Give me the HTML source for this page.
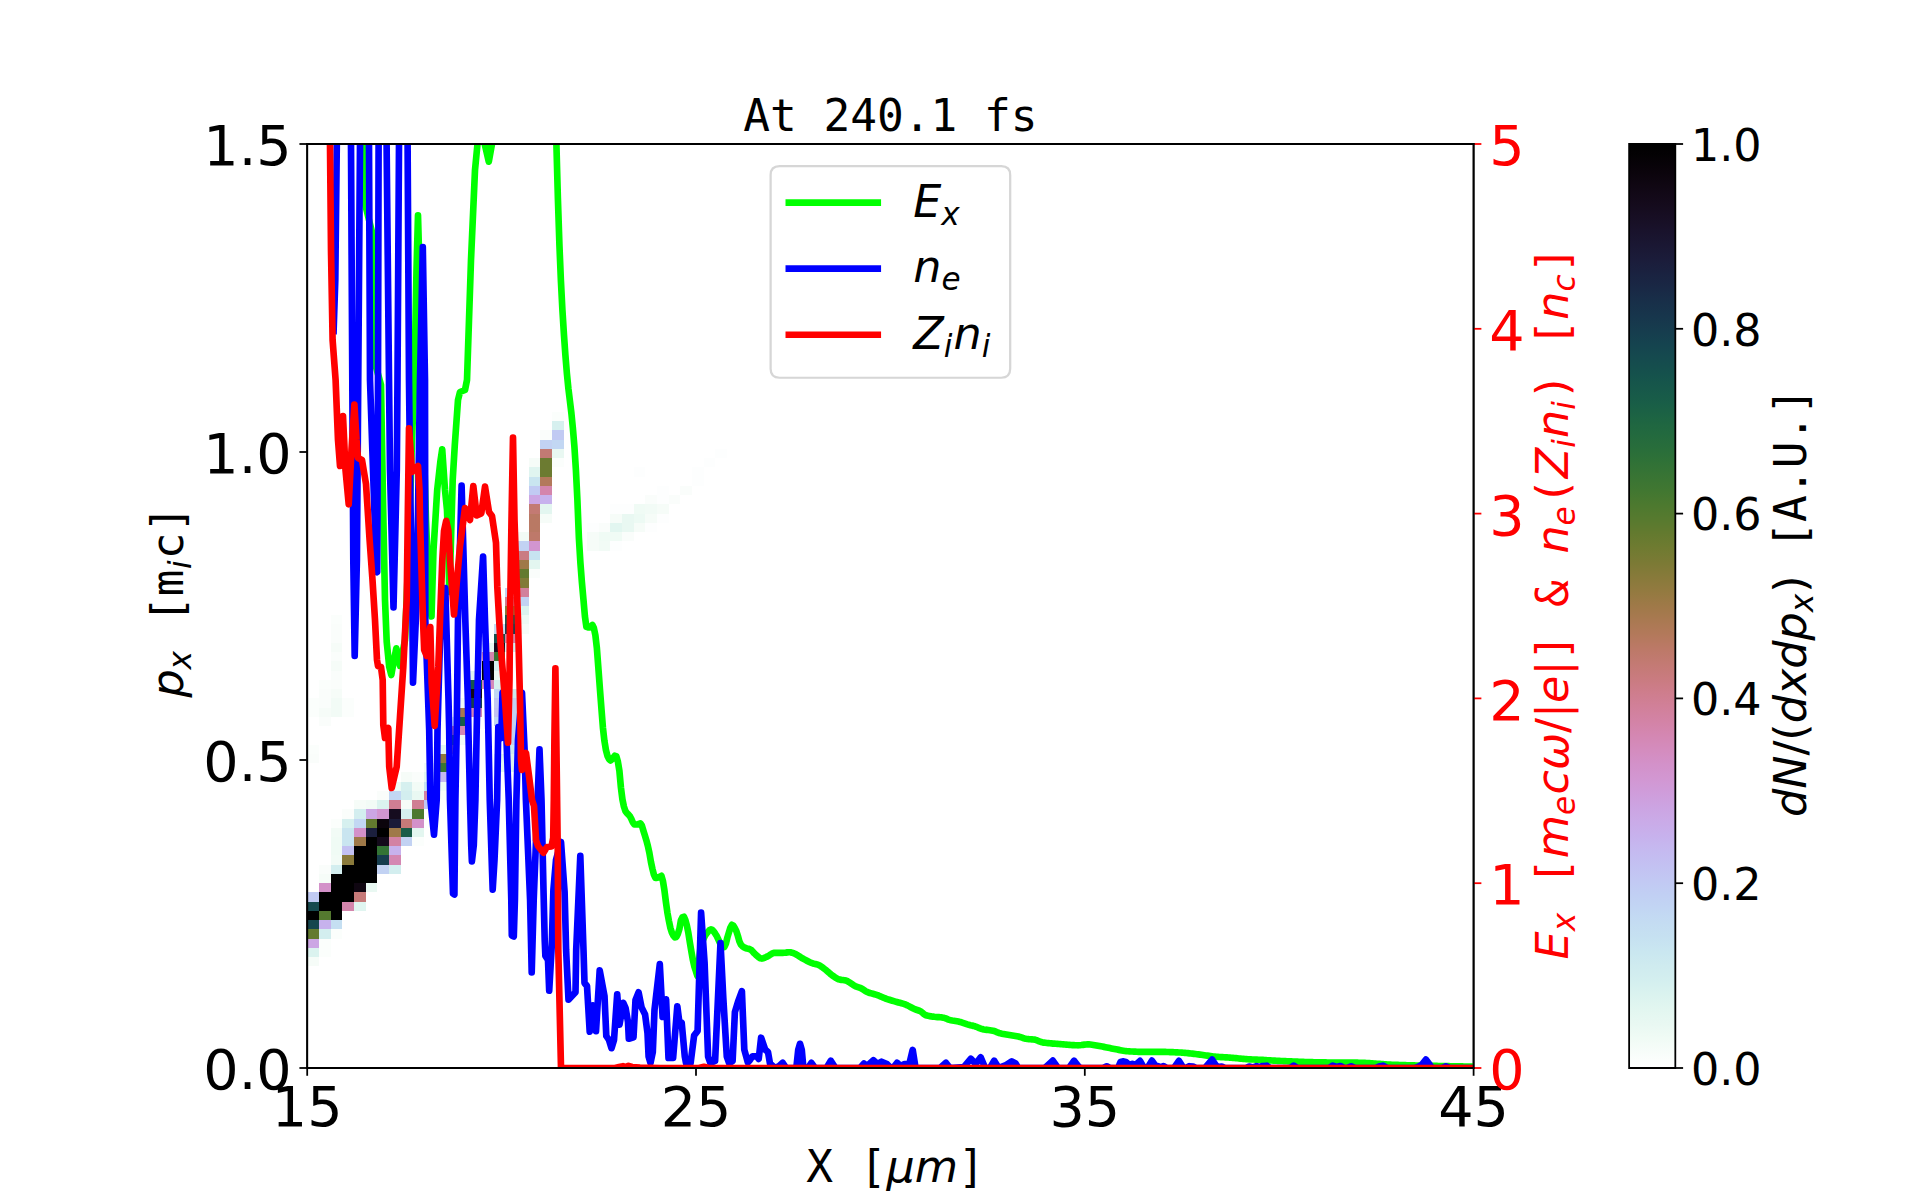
<!DOCTYPE html>
<html lang="en"><head><meta charset="utf-8"><title>At 240.1 fs</title>
<style>html,body{margin:0;padding:0;background:#fff}svg{display:block}</style></head>
<body>
<svg width="1920" height="1200" viewBox="0 0 864 540">
 
 <defs>
  <style type="text/css">*{stroke-linejoin: round; stroke-linecap: butt}</style>
 </defs>
 <g id="figure_1">
  <g id="patch_1">
   <path d="M 0 540 
L 864 540 
L 864 0 
L 0 0 
z
" style="fill: #ffffff"/>
  </g>
  <g id="axes_1">
   <g id="patch_2">
    <path d="M 138.24 480.6 
L 663.12 480.6 
L 663.12 64.8 
L 138.24 64.8 
z
" style="fill: #ffffff"/>
   </g>
   <g id="heatcells" shape-rendering="crispEdges">
    <path d="M 138.24 434.862 
L 143.488 434.862 
L 143.488 430.704 
L 138.24 430.704 
z
" clip-path="url(#p8d87a5adac)" style="fill: #f6fcf8"/>
    <path d="M 138.24 430.704 
L 143.488 430.704 
L 143.488 426.546 
L 138.24 426.546 
z
" clip-path="url(#p8d87a5adac)" style="fill: #dbf3ef"/>
    <path d="M 138.24 426.546 
L 143.488 426.546 
L 143.488 422.388 
L 138.24 422.388 
z
" clip-path="url(#p8d87a5adac)" style="fill: #cca6e4"/>
    <path d="M 138.24 422.388 
L 143.488 422.388 
L 143.488 418.23 
L 138.24 418.23 
z
" clip-path="url(#p8d87a5adac)" style="fill: #637a2f"/>
    <path d="M 138.24 418.23 
L 143.488 418.23 
L 143.488 414.072 
L 138.24 414.072 
z
" clip-path="url(#p8d87a5adac)" style="fill: #15464e"/>
    <path d="M 138.24 414.072 
L 143.488 414.072 
L 143.488 409.914 
L 138.24 409.914 
z
" clip-path="url(#p8d87a5adac)"/>
    <path d="M 138.24 409.914 
L 143.488 409.914 
L 143.488 405.756 
L 138.24 405.756 
z
" clip-path="url(#p8d87a5adac)" style="fill: #15494e"/>
    <path d="M 138.24 405.756 
L 143.488 405.756 
L 143.488 401.598 
L 138.24 401.598 
z
" clip-path="url(#p8d87a5adac)" style="fill: #c1caf3"/>
    <path d="M 138.24 343.386 
L 143.488 343.386 
L 143.488 339.228 
L 138.24 339.228 
z
" clip-path="url(#p8d87a5adac)" style="fill: #fafdfb"/>
    <path d="M 138.24 339.228 
L 143.488 339.228 
L 143.488 335.07 
L 138.24 335.07 
z
" clip-path="url(#p8d87a5adac)" style="fill: #fbfefc"/>
    <path d="M 138.24 322.596 
L 143.488 322.596 
L 143.488 318.438 
L 138.24 318.438 
z
" clip-path="url(#p8d87a5adac)" style="fill: #fbfefc"/>
    <path d="M 138.24 318.438 
L 143.488 318.438 
L 143.488 314.28 
L 138.24 314.28 
z
" clip-path="url(#p8d87a5adac)" style="fill: #fbfefc"/>
    <path d="M 143.488 430.704 
L 148.737 430.704 
L 148.737 426.546 
L 143.488 426.546 
z
" clip-path="url(#p8d87a5adac)" style="fill: #fbfefc"/>
    <path d="M 143.488 426.546 
L 148.737 426.546 
L 148.737 422.388 
L 143.488 422.388 
z
" clip-path="url(#p8d87a5adac)" style="fill: #fbfefc"/>
    <path d="M 143.488 422.388 
L 148.737 422.388 
L 148.737 418.23 
L 143.488 418.23 
z
" clip-path="url(#p8d87a5adac)" style="fill: #d3eeef"/>
    <path d="M 143.488 418.23 
L 148.737 418.23 
L 148.737 414.072 
L 143.488 414.072 
z
" clip-path="url(#p8d87a5adac)" style="fill: #c7b2ed"/>
    <path d="M 143.488 414.072 
L 148.737 414.072 
L 148.737 409.914 
L 143.488 409.914 
z
" clip-path="url(#p8d87a5adac)" style="fill: #54792f"/>
    <path d="M 143.488 409.914 
L 148.737 409.914 
L 148.737 405.756 
L 143.488 405.756 
z
" clip-path="url(#p8d87a5adac)"/>
    <path d="M 143.488 405.756 
L 148.737 405.756 
L 148.737 401.598 
L 143.488 401.598 
z
" clip-path="url(#p8d87a5adac)"/>
    <path d="M 143.488 401.598 
L 148.737 401.598 
L 148.737 397.44 
L 143.488 397.44 
z
" clip-path="url(#p8d87a5adac)" style="fill: #d391c9"/>
    <path d="M 143.488 397.44 
L 148.737 397.44 
L 148.737 393.282 
L 143.488 393.282 
z
" clip-path="url(#p8d87a5adac)" style="fill: #f6fcf8"/>
    <path d="M 143.488 393.282 
L 148.737 393.282 
L 148.737 389.124 
L 143.488 389.124 
z
" clip-path="url(#p8d87a5adac)" style="fill: #fafdfb"/>
    <path d="M 143.488 326.754 
L 148.737 326.754 
L 148.737 322.596 
L 143.488 322.596 
z
" clip-path="url(#p8d87a5adac)" style="fill: #fafdfb"/>
    <path d="M 143.488 322.596 
L 148.737 322.596 
L 148.737 318.438 
L 143.488 318.438 
z
" clip-path="url(#p8d87a5adac)" style="fill: #f6fcf8"/>
    <path d="M 143.488 318.438 
L 148.737 318.438 
L 148.737 314.28 
L 143.488 314.28 
z
" clip-path="url(#p8d87a5adac)" style="fill: #fafdfb"/>
    <path d="M 143.488 314.28 
L 148.737 314.28 
L 148.737 310.122 
L 143.488 310.122 
z
" clip-path="url(#p8d87a5adac)" style="fill: #fafdfb"/>
    <path d="M 143.488 310.122 
L 148.737 310.122 
L 148.737 305.964 
L 143.488 305.964 
z
" clip-path="url(#p8d87a5adac)" style="fill: #fbfefc"/>
    <path d="M 148.737 422.388 
L 153.986 422.388 
L 153.986 418.23 
L 148.737 418.23 
z
" clip-path="url(#p8d87a5adac)" style="fill: #fbfefc"/>
    <path d="M 148.737 418.23 
L 153.986 418.23 
L 153.986 414.072 
L 148.737 414.072 
z
" clip-path="url(#p8d87a5adac)" style="fill: #c5dff2"/>
    <path d="M 148.737 414.072 
L 153.986 414.072 
L 153.986 409.914 
L 148.737 409.914 
z
" clip-path="url(#p8d87a5adac)"/>
    <path d="M 148.737 409.914 
L 153.986 409.914 
L 153.986 405.756 
L 148.737 405.756 
z
" clip-path="url(#p8d87a5adac)"/>
    <path d="M 148.737 405.756 
L 153.986 405.756 
L 153.986 401.598 
L 148.737 401.598 
z
" clip-path="url(#p8d87a5adac)"/>
    <path d="M 148.737 401.598 
L 153.986 401.598 
L 153.986 397.44 
L 148.737 397.44 
z
" clip-path="url(#p8d87a5adac)"/>
    <path d="M 148.737 397.44 
L 153.986 397.44 
L 153.986 393.282 
L 148.737 393.282 
z
" clip-path="url(#p8d87a5adac)"/>
    <path d="M 148.737 393.282 
L 153.986 393.282 
L 153.986 389.124 
L 148.737 389.124 
z
" clip-path="url(#p8d87a5adac)" style="fill: #d3eeef"/>
    <path d="M 148.737 389.124 
L 153.986 389.124 
L 153.986 384.966 
L 148.737 384.966 
z
" clip-path="url(#p8d87a5adac)" style="fill: #f2fbf6"/>
    <path d="M 148.737 384.966 
L 153.986 384.966 
L 153.986 380.808 
L 148.737 380.808 
z
" clip-path="url(#p8d87a5adac)" style="fill: #f0fbf5"/>
    <path d="M 148.737 380.808 
L 153.986 380.808 
L 153.986 376.65 
L 148.737 376.65 
z
" clip-path="url(#p8d87a5adac)" style="fill: #f0fbf5"/>
    <path d="M 148.737 376.65 
L 153.986 376.65 
L 153.986 372.492 
L 148.737 372.492 
z
" clip-path="url(#p8d87a5adac)" style="fill: #f2fbf6"/>
    <path d="M 148.737 372.492 
L 153.986 372.492 
L 153.986 368.334 
L 148.737 368.334 
z
" clip-path="url(#p8d87a5adac)" style="fill: #fbfefc"/>
    <path d="M 148.737 322.596 
L 153.986 322.596 
L 153.986 318.438 
L 148.737 318.438 
z
" clip-path="url(#p8d87a5adac)" style="fill: #f2fbf6"/>
    <path d="M 148.737 318.438 
L 153.986 318.438 
L 153.986 314.28 
L 148.737 314.28 
z
" clip-path="url(#p8d87a5adac)" style="fill: #f2fbf6"/>
    <path d="M 148.737 314.28 
L 153.986 314.28 
L 153.986 310.122 
L 148.737 310.122 
z
" clip-path="url(#p8d87a5adac)" style="fill: #f6fcf8"/>
    <path d="M 148.737 310.122 
L 153.986 310.122 
L 153.986 305.964 
L 148.737 305.964 
z
" clip-path="url(#p8d87a5adac)" style="fill: #fafdfb"/>
    <path d="M 148.737 305.964 
L 153.986 305.964 
L 153.986 301.806 
L 148.737 301.806 
z
" clip-path="url(#p8d87a5adac)" style="fill: #fafdfb"/>
    <path d="M 148.737 301.806 
L 153.986 301.806 
L 153.986 297.648 
L 148.737 297.648 
z
" clip-path="url(#p8d87a5adac)" style="fill: #f6fcf8"/>
    <path d="M 148.737 297.648 
L 153.986 297.648 
L 153.986 293.49 
L 148.737 293.49 
z
" clip-path="url(#p8d87a5adac)" style="fill: #fafdfb"/>
    <path d="M 148.737 293.49 
L 153.986 293.49 
L 153.986 289.332 
L 148.737 289.332 
z
" clip-path="url(#p8d87a5adac)" style="fill: #f6fcf8"/>
    <path d="M 148.737 289.332 
L 153.986 289.332 
L 153.986 285.174 
L 148.737 285.174 
z
" clip-path="url(#p8d87a5adac)" style="fill: #fafdfb"/>
    <path d="M 148.737 285.174 
L 153.986 285.174 
L 153.986 281.016 
L 148.737 281.016 
z
" clip-path="url(#p8d87a5adac)" style="fill: #fafdfb"/>
    <path d="M 148.737 281.016 
L 153.986 281.016 
L 153.986 276.858 
L 148.737 276.858 
z
" clip-path="url(#p8d87a5adac)" style="fill: #fbfefc"/>
    <path d="M 153.986 409.914 
L 159.235 409.914 
L 159.235 405.756 
L 153.986 405.756 
z
" clip-path="url(#p8d87a5adac)" style="fill: #d485ac"/>
    <path d="M 153.986 405.756 
L 159.235 405.756 
L 159.235 401.598 
L 153.986 401.598 
z
" clip-path="url(#p8d87a5adac)"/>
    <path d="M 153.986 401.598 
L 159.235 401.598 
L 159.235 397.44 
L 153.986 397.44 
z
" clip-path="url(#p8d87a5adac)"/>
    <path d="M 153.986 397.44 
L 159.235 397.44 
L 159.235 393.282 
L 153.986 393.282 
z
" clip-path="url(#p8d87a5adac)"/>
    <path d="M 153.986 393.282 
L 159.235 393.282 
L 159.235 389.124 
L 153.986 389.124 
z
" clip-path="url(#p8d87a5adac)"/>
    <path d="M 153.986 389.124 
L 159.235 389.124 
L 159.235 384.966 
L 153.986 384.966 
z
" clip-path="url(#p8d87a5adac)" style="fill: #8a7a3b"/>
    <path d="M 153.986 384.966 
L 159.235 384.966 
L 159.235 380.808 
L 153.986 380.808 
z
" clip-path="url(#p8d87a5adac)" style="fill: #c3c1f2"/>
    <path d="M 153.986 380.808 
L 159.235 380.808 
L 159.235 376.65 
L 153.986 376.65 
z
" clip-path="url(#p8d87a5adac)" style="fill: #c9e5f0"/>
    <path d="M 153.986 376.65 
L 159.235 376.65 
L 159.235 372.492 
L 153.986 372.492 
z
" clip-path="url(#p8d87a5adac)" style="fill: #c9e5f0"/>
    <path d="M 153.986 372.492 
L 159.235 372.492 
L 159.235 368.334 
L 153.986 368.334 
z
" clip-path="url(#p8d87a5adac)" style="fill: #d6f0ef"/>
    <path d="M 153.986 368.334 
L 159.235 368.334 
L 159.235 364.176 
L 153.986 364.176 
z
" clip-path="url(#p8d87a5adac)" style="fill: #fafdfb"/>
    <path d="M 153.986 322.596 
L 159.235 322.596 
L 159.235 318.438 
L 153.986 318.438 
z
" clip-path="url(#p8d87a5adac)" style="fill: #fbfefc"/>
    <path d="M 153.986 318.438 
L 159.235 318.438 
L 159.235 314.28 
L 153.986 314.28 
z
" clip-path="url(#p8d87a5adac)" style="fill: #fbfefc"/>
    <path d="M 159.235 409.914 
L 164.484 409.914 
L 164.484 405.756 
L 159.235 405.756 
z
" clip-path="url(#p8d87a5adac)" style="fill: #e0f5f0"/>
    <path d="M 159.235 405.756 
L 164.484 405.756 
L 164.484 401.598 
L 159.235 401.598 
z
" clip-path="url(#p8d87a5adac)" style="fill: #c67a79"/>
    <path d="M 159.235 401.598 
L 164.484 401.598 
L 164.484 397.44 
L 159.235 397.44 
z
" clip-path="url(#p8d87a5adac)" style="fill: #0f0611"/>
    <path d="M 159.235 397.44 
L 164.484 397.44 
L 164.484 393.282 
L 159.235 393.282 
z
" clip-path="url(#p8d87a5adac)"/>
    <path d="M 159.235 393.282 
L 164.484 393.282 
L 164.484 389.124 
L 159.235 389.124 
z
" clip-path="url(#p8d87a5adac)"/>
    <path d="M 159.235 389.124 
L 164.484 389.124 
L 164.484 384.966 
L 159.235 384.966 
z
" clip-path="url(#p8d87a5adac)"/>
    <path d="M 159.235 384.966 
L 164.484 384.966 
L 164.484 380.808 
L 159.235 380.808 
z
" clip-path="url(#p8d87a5adac)"/>
    <path d="M 159.235 380.808 
L 164.484 380.808 
L 164.484 376.65 
L 159.235 376.65 
z
" clip-path="url(#p8d87a5adac)" style="fill: #9f7948"/>
    <path d="M 159.235 376.65 
L 164.484 376.65 
L 164.484 372.492 
L 159.235 372.492 
z
" clip-path="url(#p8d87a5adac)" style="fill: #d391c9"/>
    <path d="M 159.235 372.492 
L 164.484 372.492 
L 164.484 368.334 
L 159.235 368.334 
z
" clip-path="url(#p8d87a5adac)" style="fill: #c2d7f3"/>
    <path d="M 159.235 368.334 
L 164.484 368.334 
L 164.484 364.176 
L 159.235 364.176 
z
" clip-path="url(#p8d87a5adac)" style="fill: #d3eeef"/>
    <path d="M 159.235 364.176 
L 164.484 364.176 
L 164.484 360.018 
L 159.235 360.018 
z
" clip-path="url(#p8d87a5adac)" style="fill: #f6fcf8"/>
    <path d="M 164.484 401.598 
L 169.732 401.598 
L 169.732 397.44 
L 164.484 397.44 
z
" clip-path="url(#p8d87a5adac)" style="fill: #e9f8f2"/>
    <path d="M 164.484 397.44 
L 169.732 397.44 
L 169.732 393.282 
L 164.484 393.282 
z
" clip-path="url(#p8d87a5adac)"/>
    <path d="M 164.484 393.282 
L 169.732 393.282 
L 169.732 389.124 
L 164.484 389.124 
z
" clip-path="url(#p8d87a5adac)"/>
    <path d="M 164.484 389.124 
L 169.732 389.124 
L 169.732 384.966 
L 164.484 384.966 
z
" clip-path="url(#p8d87a5adac)"/>
    <path d="M 164.484 384.966 
L 169.732 384.966 
L 169.732 380.808 
L 164.484 380.808 
z
" clip-path="url(#p8d87a5adac)"/>
    <path d="M 164.484 380.808 
L 169.732 380.808 
L 169.732 376.65 
L 164.484 376.65 
z
" clip-path="url(#p8d87a5adac)"/>
    <path d="M 164.484 376.65 
L 169.732 376.65 
L 169.732 372.492 
L 164.484 372.492 
z
" clip-path="url(#p8d87a5adac)" style="fill: #1b1f3d"/>
    <path d="M 164.484 372.492 
L 169.732 372.492 
L 169.732 368.334 
L 164.484 368.334 
z
" clip-path="url(#p8d87a5adac)" style="fill: #637a2f"/>
    <path d="M 164.484 368.334 
L 169.732 368.334 
L 169.732 364.176 
L 164.484 364.176 
z
" clip-path="url(#p8d87a5adac)" style="fill: #cca6e4"/>
    <path d="M 164.484 364.176 
L 169.732 364.176 
L 169.732 360.018 
L 164.484 360.018 
z
" clip-path="url(#p8d87a5adac)" style="fill: #f2fbf6"/>
    <path d="M 169.732 393.282 
L 174.981 393.282 
L 174.981 389.124 
L 169.732 389.124 
z
" clip-path="url(#p8d87a5adac)" style="fill: #c2d2f3"/>
    <path d="M 169.732 389.124 
L 174.981 389.124 
L 174.981 384.966 
L 169.732 384.966 
z
" clip-path="url(#p8d87a5adac)" style="fill: #163d4e"/>
    <path d="M 169.732 384.966 
L 174.981 384.966 
L 174.981 380.808 
L 169.732 380.808 
z
" clip-path="url(#p8d87a5adac)" style="fill: #337335"/>
    <path d="M 169.732 380.808 
L 174.981 380.808 
L 174.981 376.65 
L 169.732 376.65 
z
" clip-path="url(#p8d87a5adac)" style="fill: #140a1b"/>
    <path d="M 169.732 376.65 
L 174.981 376.65 
L 174.981 372.492 
L 169.732 372.492 
z
" clip-path="url(#p8d87a5adac)"/>
    <path d="M 169.732 372.492 
L 174.981 372.492 
L 174.981 368.334 
L 169.732 368.334 
z
" clip-path="url(#p8d87a5adac)" style="fill: #0b040c"/>
    <path d="M 169.732 368.334 
L 174.981 368.334 
L 174.981 364.176 
L 169.732 364.176 
z
" clip-path="url(#p8d87a5adac)" style="fill: #d295d0"/>
    <path d="M 169.732 364.176 
L 174.981 364.176 
L 174.981 360.018 
L 169.732 360.018 
z
" clip-path="url(#p8d87a5adac)" style="fill: #dbf3ef"/>
    <path d="M 169.732 360.018 
L 174.981 360.018 
L 174.981 355.86 
L 169.732 355.86 
z
" clip-path="url(#p8d87a5adac)" style="fill: #fafdfb"/>
    <path d="M 174.981 393.282 
L 180.230 393.282 
L 180.230 389.124 
L 174.981 389.124 
z
" clip-path="url(#p8d87a5adac)" style="fill: #d3eeef"/>
    <path d="M 174.981 389.124 
L 180.230 389.124 
L 180.230 384.966 
L 174.981 384.966 
z
" clip-path="url(#p8d87a5adac)" style="fill: #d487b2"/>
    <path d="M 174.981 384.966 
L 180.230 384.966 
L 180.230 380.808 
L 174.981 380.808 
z
" clip-path="url(#p8d87a5adac)" style="fill: #c7b2ed"/>
    <path d="M 174.981 380.808 
L 180.230 380.808 
L 180.230 376.65 
L 174.981 376.65 
z
" clip-path="url(#p8d87a5adac)" style="fill: #d382a3"/>
    <path d="M 174.981 376.65 
L 180.230 376.65 
L 180.230 372.492 
L 174.981 372.492 
z
" clip-path="url(#p8d87a5adac)" style="fill: #9f7948"/>
    <path d="M 174.981 372.492 
L 180.230 372.492 
L 180.230 368.334 
L 174.981 368.334 
z
" clip-path="url(#p8d87a5adac)" style="fill: #1b1b38"/>
    <path d="M 174.981 368.334 
L 180.230 368.334 
L 180.230 364.176 
L 174.981 364.176 
z
" clip-path="url(#p8d87a5adac)" style="fill: #160c1f"/>
    <path d="M 174.981 364.176 
L 180.230 364.176 
L 180.230 360.018 
L 174.981 360.018 
z
" clip-path="url(#p8d87a5adac)" style="fill: #d07e93"/>
    <path d="M 174.981 360.018 
L 180.230 360.018 
L 180.230 355.86 
L 174.981 355.86 
z
" clip-path="url(#p8d87a5adac)" style="fill: #c2d7f3"/>
    <path d="M 174.981 355.86 
L 180.230 355.86 
L 180.230 351.702 
L 174.981 351.702 
z
" clip-path="url(#p8d87a5adac)" style="fill: #edfaf4"/>
    <path d="M 180.230 380.808 
L 185.479 380.808 
L 185.479 376.65 
L 180.230 376.65 
z
" clip-path="url(#p8d87a5adac)" style="fill: #c2d2f3"/>
    <path d="M 180.230 376.65 
L 185.479 376.65 
L 185.479 372.492 
L 180.230 372.492 
z
" clip-path="url(#p8d87a5adac)" style="fill: #185b48"/>
    <path d="M 180.230 372.492 
L 185.479 372.492 
L 185.479 368.334 
L 180.230 368.334 
z
" clip-path="url(#p8d87a5adac)" style="fill: #c67a79"/>
    <path d="M 180.230 368.334 
L 185.479 368.334 
L 185.479 364.176 
L 180.230 364.176 
z
" clip-path="url(#p8d87a5adac)" style="fill: #d6f0ef"/>
    <path d="M 180.230 364.176 
L 185.479 364.176 
L 185.479 360.018 
L 180.230 360.018 
z
" clip-path="url(#p8d87a5adac)" style="fill: #f6fcf8"/>
    <path d="M 180.230 360.018 
L 185.479 360.018 
L 185.479 355.86 
L 180.230 355.86 
z
" clip-path="url(#p8d87a5adac)" style="fill: #d3eeef"/>
    <path d="M 180.230 355.86 
L 185.479 355.86 
L 185.479 351.702 
L 180.230 351.702 
z
" clip-path="url(#p8d87a5adac)" style="fill: #d6f0ef"/>
    <path d="M 180.230 351.702 
L 185.479 351.702 
L 185.479 347.544 
L 180.230 347.544 
z
" clip-path="url(#p8d87a5adac)" style="fill: #f6fcf8"/>
    <path d="M 185.479 380.808 
L 190.728 380.808 
L 190.728 376.65 
L 185.479 376.65 
z
" clip-path="url(#p8d87a5adac)" style="fill: #fbfefc"/>
    <path d="M 185.479 376.65 
L 190.728 376.65 
L 190.728 372.492 
L 185.479 372.492 
z
" clip-path="url(#p8d87a5adac)" style="fill: #e3f6f0"/>
    <path d="M 185.479 372.492 
L 190.728 372.492 
L 190.728 368.334 
L 185.479 368.334 
z
" clip-path="url(#p8d87a5adac)" style="fill: #d391c9"/>
    <path d="M 185.479 368.334 
L 190.728 368.334 
L 190.728 364.176 
L 185.479 364.176 
z
" clip-path="url(#p8d87a5adac)" style="fill: #4c792f"/>
    <path d="M 185.479 364.176 
L 190.728 364.176 
L 190.728 360.018 
L 185.479 360.018 
z
" clip-path="url(#p8d87a5adac)" style="fill: #d07e93"/>
    <path d="M 185.479 360.018 
L 190.728 360.018 
L 190.728 355.86 
L 185.479 355.86 
z
" clip-path="url(#p8d87a5adac)" style="fill: #e9f8f2"/>
    <path d="M 185.479 355.86 
L 190.728 355.86 
L 190.728 351.702 
L 185.479 351.702 
z
" clip-path="url(#p8d87a5adac)" style="fill: #f2fbf6"/>
    <path d="M 185.479 351.702 
L 190.728 351.702 
L 190.728 347.544 
L 185.479 347.544 
z
" clip-path="url(#p8d87a5adac)" style="fill: #fafdfb"/>
    <path d="M 190.728 364.176 
L 195.976 364.176 
L 195.976 360.018 
L 190.728 360.018 
z
" clip-path="url(#p8d87a5adac)" style="fill: #c2c6f3"/>
    <path d="M 190.728 360.018 
L 195.976 360.018 
L 195.976 355.86 
L 190.728 355.86 
z
" clip-path="url(#p8d87a5adac)" style="fill: #d382a3"/>
    <path d="M 190.728 355.86 
L 195.976 355.86 
L 195.976 351.702 
L 190.728 351.702 
z
" clip-path="url(#p8d87a5adac)" style="fill: #c7e3f1"/>
    <path d="M 190.728 351.702 
L 195.976 351.702 
L 195.976 347.544 
L 190.728 347.544 
z
" clip-path="url(#p8d87a5adac)" style="fill: #e3f6f0"/>
    <path d="M 190.728 347.544 
L 195.976 347.544 
L 195.976 343.386 
L 190.728 343.386 
z
" clip-path="url(#p8d87a5adac)" style="fill: #f2fbf6"/>
    <path d="M 195.976 360.018 
L 201.225 360.018 
L 201.225 355.86 
L 195.976 355.86 
z
" clip-path="url(#p8d87a5adac)" style="fill: #f6fcf8"/>
    <path d="M 195.976 355.86 
L 201.225 355.86 
L 201.225 351.702 
L 195.976 351.702 
z
" clip-path="url(#p8d87a5adac)" style="fill: #edfaf4"/>
    <path d="M 195.976 351.702 
L 201.225 351.702 
L 201.225 347.544 
L 195.976 347.544 
z
" clip-path="url(#p8d87a5adac)" style="fill: #c5b8ef"/>
    <path d="M 195.976 347.544 
L 201.225 347.544 
L 201.225 343.386 
L 195.976 343.386 
z
" clip-path="url(#p8d87a5adac)" style="fill: #3a7533"/>
    <path d="M 195.976 343.386 
L 201.225 343.386 
L 201.225 339.228 
L 195.976 339.228 
z
" clip-path="url(#p8d87a5adac)" style="fill: #907a3e"/>
    <path d="M 195.976 339.228 
L 201.225 339.228 
L 201.225 335.07 
L 195.976 335.07 
z
" clip-path="url(#p8d87a5adac)" style="fill: #e3f6f0"/>
    <path d="M 201.225 343.386 
L 206.474 343.386 
L 206.474 339.228 
L 201.225 339.228 
z
" clip-path="url(#p8d87a5adac)" style="fill: #d3eeef"/>
    <path d="M 201.225 339.228 
L 206.474 339.228 
L 206.474 335.07 
L 201.225 335.07 
z
" clip-path="url(#p8d87a5adac)" style="fill: #be796a"/>
    <path d="M 201.225 335.07 
L 206.474 335.07 
L 206.474 330.912 
L 201.225 330.912 
z
" clip-path="url(#p8d87a5adac)" style="fill: #1e6542"/>
    <path d="M 201.225 330.912 
L 206.474 330.912 
L 206.474 326.754 
L 201.225 326.754 
z
" clip-path="url(#p8d87a5adac)" style="fill: #d07e93"/>
    <path d="M 201.225 326.754 
L 206.474 326.754 
L 206.474 322.596 
L 201.225 322.596 
z
" clip-path="url(#p8d87a5adac)" style="fill: #dbf3ef"/>
    <path d="M 206.474 335.07 
L 211.723 335.07 
L 211.723 330.912 
L 206.474 330.912 
z
" clip-path="url(#p8d87a5adac)" style="fill: #f2fbf6"/>
    <path d="M 206.474 330.912 
L 211.723 330.912 
L 211.723 326.754 
L 206.474 326.754 
z
" clip-path="url(#p8d87a5adac)" style="fill: #d487b2"/>
    <path d="M 206.474 326.754 
L 211.723 326.754 
L 211.723 322.596 
L 206.474 322.596 
z
" clip-path="url(#p8d87a5adac)" style="fill: #195e47"/>
    <path d="M 206.474 322.596 
L 211.723 322.596 
L 211.723 318.438 
L 206.474 318.438 
z
" clip-path="url(#p8d87a5adac)" style="fill: #a7794f"/>
    <path d="M 206.474 318.438 
L 211.723 318.438 
L 211.723 314.28 
L 206.474 314.28 
z
" clip-path="url(#p8d87a5adac)" style="fill: #f2fbf6"/>
    <path d="M 211.723 322.596 
L 216.972 322.596 
L 216.972 318.438 
L 211.723 318.438 
z
" clip-path="url(#p8d87a5adac)" style="fill: #d487b2"/>
    <path d="M 211.723 318.438 
L 216.972 318.438 
L 216.972 314.28 
L 211.723 314.28 
z
" clip-path="url(#p8d87a5adac)" style="fill: #163d4e"/>
    <path d="M 211.723 314.28 
L 216.972 314.28 
L 216.972 310.122 
L 211.723 310.122 
z
" clip-path="url(#p8d87a5adac)" style="fill: #110815"/>
    <path d="M 211.723 310.122 
L 216.972 310.122 
L 216.972 305.964 
L 211.723 305.964 
z
" clip-path="url(#p8d87a5adac)" style="fill: #16574b"/>
    <path d="M 211.723 305.964 
L 216.972 305.964 
L 216.972 301.806 
L 211.723 301.806 
z
" clip-path="url(#p8d87a5adac)" style="fill: #e0f5f0"/>
    <path d="M 216.972 310.122 
L 222.220 310.122 
L 222.220 305.964 
L 216.972 305.964 
z
" clip-path="url(#p8d87a5adac)" style="fill: #d48abb"/>
    <path d="M 216.972 305.964 
L 222.220 305.964 
L 222.220 301.806 
L 216.972 301.806 
z
" clip-path="url(#p8d87a5adac)"/>
    <path d="M 216.972 301.806 
L 222.220 301.806 
L 222.220 297.648 
L 216.972 297.648 
z
" clip-path="url(#p8d87a5adac)"/>
    <path d="M 216.972 297.648 
L 222.220 297.648 
L 222.220 293.49 
L 216.972 293.49 
z
" clip-path="url(#p8d87a5adac)" style="fill: #d485ac"/>
    <path d="M 216.972 293.49 
L 222.220 293.49 
L 222.220 289.332 
L 216.972 289.332 
z
" clip-path="url(#p8d87a5adac)" style="fill: #e9f8f2"/>
    <path d="M 222.220 347.544 
L 227.469 347.544 
L 227.469 343.386 
L 222.220 343.386 
z
" clip-path="url(#p8d87a5adac)" style="fill: #e3f6f0"/>
    <path d="M 222.220 343.386 
L 227.469 343.386 
L 227.469 339.228 
L 222.220 339.228 
z
" clip-path="url(#p8d87a5adac)" style="fill: #e3f6f0"/>
    <path d="M 222.220 326.754 
L 227.469 326.754 
L 227.469 322.596 
L 222.220 322.596 
z
" clip-path="url(#p8d87a5adac)" style="fill: #c2d7f3"/>
    <path d="M 222.220 322.596 
L 227.469 322.596 
L 227.469 318.438 
L 222.220 318.438 
z
" clip-path="url(#p8d87a5adac)" style="fill: #c3c1f2"/>
    <path d="M 222.220 318.438 
L 227.469 318.438 
L 227.469 314.28 
L 222.220 314.28 
z
" clip-path="url(#p8d87a5adac)" style="fill: #c2c6f3"/>
    <path d="M 222.220 314.28 
L 227.469 314.28 
L 227.469 310.122 
L 222.220 310.122 
z
" clip-path="url(#p8d87a5adac)" style="fill: #c2d7f3"/>
    <path d="M 222.220 310.122 
L 227.469 310.122 
L 227.469 305.964 
L 222.220 305.964 
z
" clip-path="url(#p8d87a5adac)" style="fill: #d6f0ef"/>
    <path d="M 222.220 305.964 
L 227.469 305.964 
L 227.469 301.806 
L 222.220 301.806 
z
" clip-path="url(#p8d87a5adac)" style="fill: #e9f8f2"/>
    <path d="M 222.220 301.806 
L 227.469 301.806 
L 227.469 297.648 
L 222.220 297.648 
z
" clip-path="url(#p8d87a5adac)" style="fill: #d6f0ef"/>
    <path d="M 222.220 297.648 
L 227.469 297.648 
L 227.469 293.49 
L 222.220 293.49 
z
" clip-path="url(#p8d87a5adac)" style="fill: #3a7533"/>
    <path d="M 222.220 293.49 
L 227.469 293.49 
L 227.469 289.332 
L 222.220 289.332 
z
" clip-path="url(#p8d87a5adac)" style="fill: #160c1f"/>
    <path d="M 222.220 289.332 
L 227.469 289.332 
L 227.469 285.174 
L 222.220 285.174 
z
" clip-path="url(#p8d87a5adac)" style="fill: #15524c"/>
    <path d="M 222.220 285.174 
L 227.469 285.174 
L 227.469 281.016 
L 222.220 281.016 
z
" clip-path="url(#p8d87a5adac)" style="fill: #c4dcf2"/>
    <path d="M 227.469 347.544 
L 232.718 347.544 
L 232.718 343.386 
L 227.469 343.386 
z
" clip-path="url(#p8d87a5adac)" style="fill: #dbf3ef"/>
    <path d="M 227.469 343.386 
L 232.718 343.386 
L 232.718 339.228 
L 227.469 339.228 
z
" clip-path="url(#p8d87a5adac)" style="fill: #dbf3ef"/>
    <path d="M 227.469 339.228 
L 232.718 339.228 
L 232.718 335.07 
L 227.469 335.07 
z
" clip-path="url(#p8d87a5adac)" style="fill: #cce9ef"/>
    <path d="M 227.469 335.07 
L 232.718 335.07 
L 232.718 330.912 
L 227.469 330.912 
z
" clip-path="url(#p8d87a5adac)" style="fill: #c2d2f3"/>
    <path d="M 227.469 330.912 
L 232.718 330.912 
L 232.718 326.754 
L 227.469 326.754 
z
" clip-path="url(#p8d87a5adac)" style="fill: #c2d2f3"/>
    <path d="M 227.469 326.754 
L 232.718 326.754 
L 232.718 322.596 
L 227.469 322.596 
z
" clip-path="url(#p8d87a5adac)" style="fill: #c2d2f3"/>
    <path d="M 227.469 322.596 
L 232.718 322.596 
L 232.718 318.438 
L 227.469 318.438 
z
" clip-path="url(#p8d87a5adac)" style="fill: #c2d2f3"/>
    <path d="M 227.469 318.438 
L 232.718 318.438 
L 232.718 314.28 
L 227.469 314.28 
z
" clip-path="url(#p8d87a5adac)" style="fill: #c2d2f3"/>
    <path d="M 227.469 314.28 
L 232.718 314.28 
L 232.718 310.122 
L 227.469 310.122 
z
" clip-path="url(#p8d87a5adac)" style="fill: #cce9ef"/>
    <path d="M 227.469 293.49 
L 232.718 293.49 
L 232.718 289.332 
L 227.469 289.332 
z
" clip-path="url(#p8d87a5adac)" style="fill: #d3eeef"/>
    <path d="M 227.469 289.332 
L 232.718 289.332 
L 232.718 285.174 
L 227.469 285.174 
z
" clip-path="url(#p8d87a5adac)" style="fill: #d382a3"/>
    <path d="M 227.469 285.174 
L 232.718 285.174 
L 232.718 281.016 
L 227.469 281.016 
z
" clip-path="url(#p8d87a5adac)" style="fill: #163d4e"/>
    <path d="M 227.469 281.016 
L 232.718 281.016 
L 232.718 276.858 
L 227.469 276.858 
z
" clip-path="url(#p8d87a5adac)" style="fill: #16574b"/>
    <path d="M 227.469 276.858 
L 232.718 276.858 
L 232.718 272.7 
L 227.469 272.7 
z
" clip-path="url(#p8d87a5adac)" style="fill: #8a7a3b"/>
    <path d="M 227.469 272.7 
L 232.718 272.7 
L 232.718 268.542 
L 227.469 268.542 
z
" clip-path="url(#p8d87a5adac)" style="fill: #d07e93"/>
    <path d="M 227.469 268.542 
L 232.718 268.542 
L 232.718 264.384 
L 227.469 264.384 
z
" clip-path="url(#p8d87a5adac)" style="fill: #c2d2f3"/>
    <path d="M 232.718 285.174 
L 237.967 285.174 
L 237.967 281.016 
L 232.718 281.016 
z
" clip-path="url(#p8d87a5adac)" style="fill: #f6fcf8"/>
    <path d="M 232.718 281.016 
L 237.967 281.016 
L 237.967 276.858 
L 232.718 276.858 
z
" clip-path="url(#p8d87a5adac)" style="fill: #edfaf4"/>
    <path d="M 232.718 276.858 
L 237.967 276.858 
L 237.967 272.7 
L 232.718 272.7 
z
" clip-path="url(#p8d87a5adac)" style="fill: #dbf3ef"/>
    <path d="M 232.718 272.7 
L 237.967 272.7 
L 237.967 268.542 
L 232.718 268.542 
z
" clip-path="url(#p8d87a5adac)" style="fill: #c2d2f3"/>
    <path d="M 232.718 268.542 
L 237.967 268.542 
L 237.967 264.384 
L 232.718 264.384 
z
" clip-path="url(#p8d87a5adac)" style="fill: #d2809c"/>
    <path d="M 232.718 264.384 
L 237.967 264.384 
L 237.967 260.226 
L 232.718 260.226 
z
" clip-path="url(#p8d87a5adac)" style="fill: #817a37"/>
    <path d="M 232.718 260.226 
L 237.967 260.226 
L 237.967 256.068 
L 232.718 256.068 
z
" clip-path="url(#p8d87a5adac)" style="fill: #637a2f"/>
    <path d="M 232.718 256.068 
L 237.967 256.068 
L 237.967 251.91 
L 232.718 251.91 
z
" clip-path="url(#p8d87a5adac)" style="fill: #9f7948"/>
    <path d="M 232.718 251.91 
L 237.967 251.91 
L 237.967 247.752 
L 232.718 247.752 
z
" clip-path="url(#p8d87a5adac)" style="fill: #ca7c83"/>
    <path d="M 232.718 247.752 
L 237.967 247.752 
L 237.967 243.594 
L 232.718 243.594 
z
" clip-path="url(#p8d87a5adac)" style="fill: #c2d2f3"/>
    <path d="M 232.718 243.594 
L 237.967 243.594 
L 237.967 239.436 
L 232.718 239.436 
z
" clip-path="url(#p8d87a5adac)" style="fill: #f2fbf6"/>
    <path d="M 237.967 260.226 
L 243.216 260.226 
L 243.216 256.068 
L 237.967 256.068 
z
" clip-path="url(#p8d87a5adac)" style="fill: #fafdfb"/>
    <path d="M 237.967 256.068 
L 243.216 256.068 
L 243.216 251.91 
L 237.967 251.91 
z
" clip-path="url(#p8d87a5adac)" style="fill: #e3f6f0"/>
    <path d="M 237.967 251.91 
L 243.216 251.91 
L 243.216 247.752 
L 237.967 247.752 
z
" clip-path="url(#p8d87a5adac)" style="fill: #c7e3f1"/>
    <path d="M 237.967 247.752 
L 243.216 247.752 
L 243.216 243.594 
L 237.967 243.594 
z
" clip-path="url(#p8d87a5adac)" style="fill: #d295d0"/>
    <path d="M 237.967 243.594 
L 243.216 243.594 
L 243.216 239.436 
L 237.967 239.436 
z
" clip-path="url(#p8d87a5adac)" style="fill: #be796a"/>
    <path d="M 237.967 239.436 
L 243.216 239.436 
L 243.216 235.278 
L 237.967 235.278 
z
" clip-path="url(#p8d87a5adac)" style="fill: #b97964"/>
    <path d="M 237.967 235.278 
L 243.216 235.278 
L 243.216 231.12 
L 237.967 231.12 
z
" clip-path="url(#p8d87a5adac)" style="fill: #b97964"/>
    <path d="M 237.967 231.12 
L 243.216 231.12 
L 243.216 226.962 
L 237.967 226.962 
z
" clip-path="url(#p8d87a5adac)" style="fill: #c37a73"/>
    <path d="M 237.967 226.962 
L 243.216 226.962 
L 243.216 222.804 
L 237.967 222.804 
z
" clip-path="url(#p8d87a5adac)" style="fill: #cca6e4"/>
    <path d="M 237.967 222.804 
L 243.216 222.804 
L 243.216 218.646 
L 237.967 218.646 
z
" clip-path="url(#p8d87a5adac)" style="fill: #c1caf3"/>
    <path d="M 237.967 218.646 
L 243.216 218.646 
L 243.216 214.488 
L 237.967 214.488 
z
" clip-path="url(#p8d87a5adac)" style="fill: #c9e5f0"/>
    <path d="M 237.967 214.488 
L 243.216 214.488 
L 243.216 210.33 
L 237.967 210.33 
z
" clip-path="url(#p8d87a5adac)" style="fill: #e0f5f0"/>
    <path d="M 237.967 210.33 
L 243.216 210.33 
L 243.216 206.172 
L 237.967 206.172 
z
" clip-path="url(#p8d87a5adac)" style="fill: #f6fcf8"/>
    <path d="M 243.216 235.278 
L 248.464 235.278 
L 248.464 231.12 
L 243.216 231.12 
z
" clip-path="url(#p8d87a5adac)" style="fill: #f6fcf8"/>
    <path d="M 243.216 231.12 
L 248.464 231.12 
L 248.464 226.962 
L 243.216 226.962 
z
" clip-path="url(#p8d87a5adac)" style="fill: #e3f6f0"/>
    <path d="M 243.216 226.962 
L 248.464 226.962 
L 248.464 222.804 
L 243.216 222.804 
z
" clip-path="url(#p8d87a5adac)" style="fill: #c7b2ed"/>
    <path d="M 243.216 222.804 
L 248.464 222.804 
L 248.464 218.646 
L 243.216 218.646 
z
" clip-path="url(#p8d87a5adac)" style="fill: #d485ac"/>
    <path d="M 243.216 218.646 
L 248.464 218.646 
L 248.464 214.488 
L 243.216 214.488 
z
" clip-path="url(#p8d87a5adac)" style="fill: #b3795b"/>
    <path d="M 243.216 214.488 
L 248.464 214.488 
L 248.464 210.33 
L 243.216 210.33 
z
" clip-path="url(#p8d87a5adac)" style="fill: #6c7b31"/>
    <path d="M 243.216 210.33 
L 248.464 210.33 
L 248.464 206.172 
L 243.216 206.172 
z
" clip-path="url(#p8d87a5adac)" style="fill: #6c7b31"/>
    <path d="M 243.216 206.172 
L 248.464 206.172 
L 248.464 202.014 
L 243.216 202.014 
z
" clip-path="url(#p8d87a5adac)" style="fill: #c37a73"/>
    <path d="M 243.216 202.014 
L 248.464 202.014 
L 248.464 197.856 
L 243.216 197.856 
z
" clip-path="url(#p8d87a5adac)" style="fill: #c2d2f3"/>
    <path d="M 243.216 197.856 
L 248.464 197.856 
L 248.464 193.698 
L 243.216 193.698 
z
" clip-path="url(#p8d87a5adac)" style="fill: #fafdfb"/>
    <path d="M 248.464 210.33 
L 253.713 210.33 
L 253.713 206.172 
L 248.464 206.172 
z
" clip-path="url(#p8d87a5adac)" style="fill: #fbfefc"/>
    <path d="M 248.464 206.172 
L 253.713 206.172 
L 253.713 202.014 
L 248.464 202.014 
z
" clip-path="url(#p8d87a5adac)" style="fill: #e9f8f2"/>
    <path d="M 248.464 202.014 
L 253.713 202.014 
L 253.713 197.856 
L 248.464 197.856 
z
" clip-path="url(#p8d87a5adac)" style="fill: #c2d7f3"/>
    <path d="M 248.464 197.856 
L 253.713 197.856 
L 253.713 193.698 
L 248.464 193.698 
z
" clip-path="url(#p8d87a5adac)" style="fill: #c1caf3"/>
    <path d="M 248.464 193.698 
L 253.713 193.698 
L 253.713 189.54 
L 248.464 189.54 
z
" clip-path="url(#p8d87a5adac)" style="fill: #d6f0ef"/>
    <path d="M 248.464 189.54 
L 253.713 189.54 
L 253.713 185.382 
L 248.464 185.382 
z
" clip-path="url(#p8d87a5adac)" style="fill: #fbfefc"/>
    <path d="M 264.211 247.752 
L 269.46 247.752 
L 269.46 243.594 
L 264.211 243.594 
z
" clip-path="url(#p8d87a5adac)" style="fill: #f6fcf8"/>
    <path d="M 264.211 243.594 
L 269.46 243.594 
L 269.46 239.436 
L 264.211 239.436 
z
" clip-path="url(#p8d87a5adac)" style="fill: #f6fcf8"/>
    <path d="M 264.211 239.436 
L 269.46 239.436 
L 269.46 235.278 
L 264.211 235.278 
z
" clip-path="url(#p8d87a5adac)" style="fill: #fdfefe"/>
    <path d="M 269.46 247.752 
L 274.708 247.752 
L 274.708 243.594 
L 269.46 243.594 
z
" clip-path="url(#p8d87a5adac)" style="fill: #f2fbf6"/>
    <path d="M 269.46 243.594 
L 274.708 243.594 
L 274.708 239.436 
L 269.46 239.436 
z
" clip-path="url(#p8d87a5adac)" style="fill: #f0fbf5"/>
    <path d="M 269.46 239.436 
L 274.708 239.436 
L 274.708 235.278 
L 269.46 235.278 
z
" clip-path="url(#p8d87a5adac)" style="fill: #fafdfb"/>
    <path d="M 274.708 247.752 
L 279.957 247.752 
L 279.957 243.594 
L 274.708 243.594 
z
" clip-path="url(#p8d87a5adac)" style="fill: #fdfefe"/>
    <path d="M 274.708 243.594 
L 279.957 243.594 
L 279.957 239.436 
L 274.708 239.436 
z
" clip-path="url(#p8d87a5adac)" style="fill: #f0fbf5"/>
    <path d="M 274.708 239.436 
L 279.957 239.436 
L 279.957 235.278 
L 274.708 235.278 
z
" clip-path="url(#p8d87a5adac)" style="fill: #e2f6f0"/>
    <path d="M 274.708 235.278 
L 279.957 235.278 
L 279.957 231.12 
L 274.708 231.12 
z
" clip-path="url(#p8d87a5adac)" style="fill: #f6fcf8"/>
    <path d="M 274.708 231.12 
L 279.957 231.12 
L 279.957 226.962 
L 274.708 226.962 
z
" clip-path="url(#p8d87a5adac)" style="fill: #fdfefe"/>
    <path d="M 279.957 243.594 
L 285.206 243.594 
L 285.206 239.436 
L 279.957 239.436 
z
" clip-path="url(#p8d87a5adac)" style="fill: #fafdfb"/>
    <path d="M 279.957 239.436 
L 285.206 239.436 
L 285.206 235.278 
L 279.957 235.278 
z
" clip-path="url(#p8d87a5adac)" style="fill: #e9f8f2"/>
    <path d="M 279.957 235.278 
L 285.206 235.278 
L 285.206 231.12 
L 279.957 231.12 
z
" clip-path="url(#p8d87a5adac)" style="fill: #e9f8f2"/>
    <path d="M 279.957 231.12 
L 285.206 231.12 
L 285.206 226.962 
L 279.957 226.962 
z
" clip-path="url(#p8d87a5adac)" style="fill: #fdfefe"/>
    <path d="M 285.206 239.436 
L 290.455 239.436 
L 290.455 235.278 
L 285.206 235.278 
z
" clip-path="url(#p8d87a5adac)" style="fill: #f6fcf8"/>
    <path d="M 285.206 235.278 
L 290.455 235.278 
L 290.455 231.12 
L 285.206 231.12 
z
" clip-path="url(#p8d87a5adac)" style="fill: #edfaf4"/>
    <path d="M 285.206 231.12 
L 290.455 231.12 
L 290.455 226.962 
L 285.206 226.962 
z
" clip-path="url(#p8d87a5adac)" style="fill: #f0fbf5"/>
    <path d="M 285.206 214.488 
L 290.455 214.488 
L 290.455 210.33 
L 285.206 210.33 
z
" clip-path="url(#p8d87a5adac)" style="fill: #fdfefe"/>
    <path d="M 290.455 239.436 
L 295.704 239.436 
L 295.704 235.278 
L 290.455 235.278 
z
" clip-path="url(#p8d87a5adac)" style="fill: #fdfefe"/>
    <path d="M 290.455 235.278 
L 295.704 235.278 
L 295.704 231.12 
L 290.455 231.12 
z
" clip-path="url(#p8d87a5adac)" style="fill: #f6fcf8"/>
    <path d="M 290.455 231.12 
L 295.704 231.12 
L 295.704 226.962 
L 290.455 226.962 
z
" clip-path="url(#p8d87a5adac)" style="fill: #f2fbf6"/>
    <path d="M 290.455 226.962 
L 295.704 226.962 
L 295.704 222.804 
L 290.455 222.804 
z
" clip-path="url(#p8d87a5adac)" style="fill: #fafdfb"/>
    <path d="M 295.704 235.278 
L 300.952 235.278 
L 300.952 231.12 
L 295.704 231.12 
z
" clip-path="url(#p8d87a5adac)" style="fill: #fdfefe"/>
    <path d="M 295.704 231.12 
L 300.952 231.12 
L 300.952 226.962 
L 295.704 226.962 
z
" clip-path="url(#p8d87a5adac)" style="fill: #f6fcf8"/>
    <path d="M 295.704 226.962 
L 300.952 226.962 
L 300.952 222.804 
L 295.704 222.804 
z
" clip-path="url(#p8d87a5adac)" style="fill: #fdfefe"/>
    <path d="M 295.704 222.804 
L 300.952 222.804 
L 300.952 218.646 
L 295.704 218.646 
z
" clip-path="url(#p8d87a5adac)" style="fill: #fdfefe"/>
    <path d="M 300.952 226.962 
L 306.201 226.962 
L 306.201 222.804 
L 300.952 222.804 
z
" clip-path="url(#p8d87a5adac)" style="fill: #fafdfb"/>
    <path d="M 306.201 222.804 
L 311.450 222.804 
L 311.450 218.646 
L 306.201 218.646 
z
" clip-path="url(#p8d87a5adac)" style="fill: #fafdfb"/>
    <path d="M 311.450 218.646 
L 316.699 218.646 
L 316.699 214.488 
L 311.450 214.488 
z
" clip-path="url(#p8d87a5adac)" style="fill: #fdfefe"/>
    <path d="M 311.450 214.488 
L 316.699 214.488 
L 316.699 210.33 
L 311.450 210.33 
z
" clip-path="url(#p8d87a5adac)" style="fill: #fdfefe"/>
    <path d="M 316.699 210.33 
L 321.948 210.33 
L 321.948 206.172 
L 316.699 206.172 
z
" clip-path="url(#p8d87a5adac)" style="fill: #fdfefe"/>
    <path d="M 321.948 206.172 
L 327.196 206.172 
L 327.196 202.014 
L 321.948 202.014 
z
" clip-path="url(#p8d87a5adac)" style="fill: #fdfefe"/>
   </g>
   <g id="matplotlib.axis_1">
    <g id="xtick_1">
     <g id="line2d_1">
      <defs>
       <path id="maa269049ea" d="M 0 0 
L 0 3.5 
" style="stroke: #000000; stroke-width: 0.8"/>
      </defs>
      <g>
       <use href="#maa269049ea" x="138.24" y="480.6" style="stroke: #000000; stroke-width: 0.8"/>
      </g>
     </g>
     <g id="text_1">
      <text style="font-size: 25px; font-family: 'DejaVu Sans', 'Bitstream Vera Sans', 'Computer Modern Sans Serif', 'Lucida Grande', 'Verdana', 'Geneva', 'Lucid', 'Arial', 'Helvetica', 'Avant Garde', sans-serif; text-anchor: middle" x="138.24" y="506.596" transform="rotate(-0 138.24 506.596)">15</text>
     </g>
    </g>
    <g id="xtick_2">
     <g id="line2d_2">
      <g>
       <use href="#maa269049ea" x="313.2" y="480.6" style="stroke: #000000; stroke-width: 0.8"/>
      </g>
     </g>
     <g id="text_2">
      <text style="font-size: 25px; font-family: 'DejaVu Sans', 'Bitstream Vera Sans', 'Computer Modern Sans Serif', 'Lucida Grande', 'Verdana', 'Geneva', 'Lucid', 'Arial', 'Helvetica', 'Avant Garde', sans-serif; text-anchor: middle" x="313.2" y="506.596" transform="rotate(-0 313.2 506.596)">25</text>
     </g>
    </g>
    <g id="xtick_3">
     <g id="line2d_3">
      <g>
       <use href="#maa269049ea" x="488.16" y="480.6" style="stroke: #000000; stroke-width: 0.8"/>
      </g>
     </g>
     <g id="text_3">
      <text style="font-size: 25px; font-family: 'DejaVu Sans', 'Bitstream Vera Sans', 'Computer Modern Sans Serif', 'Lucida Grande', 'Verdana', 'Geneva', 'Lucid', 'Arial', 'Helvetica', 'Avant Garde', sans-serif; text-anchor: middle" x="488.16" y="506.596" transform="rotate(-0 488.16 506.596)">35</text>
     </g>
    </g>
    <g id="xtick_4">
     <g id="line2d_4">
      <g>
       <use href="#maa269049ea" x="663.12" y="480.6" style="stroke: #000000; stroke-width: 0.8"/>
      </g>
     </g>
     <g id="text_4">
      <text style="font-size: 25px; font-family: 'DejaVu Sans', 'Bitstream Vera Sans', 'Computer Modern Sans Serif', 'Lucida Grande', 'Verdana', 'Geneva', 'Lucid', 'Arial', 'Helvetica', 'Avant Garde', sans-serif; text-anchor: middle" x="663.12" y="506.596" transform="rotate(-0 663.12 506.596)">45</text>
     </g>
    </g>
    <g id="text_5">
     
     <g transform="translate(362.775 532.857)">
      <text xml:space="preserve" style="white-space: pre"><tspan x="0.000 12.041 24.082" y="-0.796" style="font-size: 20px; font-family: 'DejaVu Sans Mono'">X [</tspan><tspan x="36.123 48.848" y="-0.796" style="font-style: oblique; font-size: 20px; font-family: 'DejaVu Sans'">μm</tspan><tspan x="68.330" y="-0.796" style="font-size: 20px; font-family: 'DejaVu Sans Mono'">]</tspan></text>
     </g>
    </g>
   </g>
   <g id="matplotlib.axis_2">
    <g id="ytick_1">
     <g id="line2d_5">
      <defs>
       <path id="mcebdd58d04" d="M 0 0 
L -3.5 0 
" style="stroke: #000000; stroke-width: 0.8"/>
      </defs>
      <g>
       <use href="#mcebdd58d04" x="138.24" y="480.6" style="stroke: #000000; stroke-width: 0.8"/>
      </g>
     </g>
     <g id="text_6">
      <text style="font-size: 25px; font-family: 'DejaVu Sans', 'Bitstream Vera Sans', 'Computer Modern Sans Serif', 'Lucida Grande', 'Verdana', 'Geneva', 'Lucid', 'Arial', 'Helvetica', 'Avant Garde', sans-serif; text-anchor: end" x="131.24" y="490.098" transform="rotate(-0 131.24 490.098)">0.0</text>
     </g>
    </g>
    <g id="ytick_2">
     <g id="line2d_6">
      <g>
       <use href="#mcebdd58d04" x="138.24" y="342" style="stroke: #000000; stroke-width: 0.8"/>
      </g>
     </g>
     <g id="text_7">
      <text style="font-size: 25px; font-family: 'DejaVu Sans', 'Bitstream Vera Sans', 'Computer Modern Sans Serif', 'Lucida Grande', 'Verdana', 'Geneva', 'Lucid', 'Arial', 'Helvetica', 'Avant Garde', sans-serif; text-anchor: end" x="131.24" y="351.498" transform="rotate(-0 131.24 351.498)">0.5</text>
     </g>
    </g>
    <g id="ytick_3">
     <g id="line2d_7">
      <g>
       <use href="#mcebdd58d04" x="138.24" y="203.4" style="stroke: #000000; stroke-width: 0.8"/>
      </g>
     </g>
     <g id="text_8">
      <text style="font-size: 25px; font-family: 'DejaVu Sans', 'Bitstream Vera Sans', 'Computer Modern Sans Serif', 'Lucida Grande', 'Verdana', 'Geneva', 'Lucid', 'Arial', 'Helvetica', 'Avant Garde', sans-serif; text-anchor: end" x="131.24" y="212.898" transform="rotate(-0 131.24 212.898)">1.0</text>
     </g>
    </g>
    <g id="ytick_4">
     <g id="line2d_8">
      <g>
       <use href="#mcebdd58d04" x="138.24" y="64.8" style="stroke: #000000; stroke-width: 0.8"/>
      </g>
     </g>
     <g id="text_9">
      <text style="font-size: 25px; font-family: 'DejaVu Sans', 'Bitstream Vera Sans', 'Computer Modern Sans Serif', 'Lucida Grande', 'Verdana', 'Geneva', 'Lucid', 'Arial', 'Helvetica', 'Avant Garde', sans-serif; text-anchor: end" x="131.24" y="74.298" transform="rotate(-0 131.24 74.298)">1.5</text>
     </g>
    </g>
    <g id="text_10">
     
     <g transform="translate(83.282 313.92) rotate(-90)">
      <text xml:space="preserve" style="white-space: pre"><tspan x="0.000" y="-0.796" style="font-style: oblique; font-size: 20px; font-family: 'DejaVu Sans'">p</tspan><tspan x="12.695" y="2.484" style="font-style: oblique; font-size: 14px; font-family: 'DejaVu Sans'">x</tspan><tspan x="21.527 33.568 45.609" y="-0.796" style="font-size: 20px; font-family: 'DejaVu Sans Mono'"> [m</tspan><tspan x="57.842" y="2.484" style="font-style: oblique; font-size: 14px; font-family: 'DejaVu Sans'">i</tspan><tspan x="62.278 74.319" y="-0.796" style="font-size: 20px; font-family: 'DejaVu Sans Mono'">c]</tspan></text>
     </g>
    </g>
   </g>
   <g id="patch_3">
    <path d="M 138.24 480.6 
L 138.24 64.8 
" style="fill: none; stroke: #000000; stroke-width: 0.8; stroke-linejoin: miter; stroke-linecap: square"/>
   </g>
   <g id="patch_4">
    <path d="M 663.12 480.6 
L 663.12 64.8 
" style="fill: none; stroke: #000000; stroke-width: 0.8; stroke-linejoin: miter; stroke-linecap: square"/>
   </g>
   <g id="patch_5">
    <path d="M 138.24 480.6 
L 663.12 480.6 
" style="fill: none; stroke: #000000; stroke-width: 0.8; stroke-linejoin: miter; stroke-linecap: square"/>
   </g>
   <g id="patch_6">
    <path d="M 138.24 64.8 
L 663.12 64.8 
" style="fill: none; stroke: #000000; stroke-width: 0.8; stroke-linejoin: miter; stroke-linecap: square"/>
   </g>
   <g id="text_11">
    <text style="font-size: 20px; font-family: 'DejaVu Sans Mono', 'Bitstream Vera Sans Mono', 'Computer Modern Typewriter', 'Andale Mono', 'Nimbus Mono L', 'Courier New', 'Courier', 'Fixed', 'Terminal', monospace; text-anchor: middle" x="400.68" y="58.8" transform="rotate(-0 400.68 58.8)">At 240.1 fs</text>
   </g>
  </g>
  <g id="axes_2">
   <g id="patch_7">
    <path d="M 733.104 480.6 
L 753.894 480.6 
L 753.894 64.8 
L 733.104 64.8 
z
" style="fill: #ffffff"/>
   </g>
   <defs><linearGradient id="cbgrad" x1="0" y1="0" x2="0" y2="1"><stop offset="0.000" stop-color="#000000"/><stop offset="0.015" stop-color="#050205"/><stop offset="0.031" stop-color="#0b040c"/><stop offset="0.046" stop-color="#100713"/><stop offset="0.062" stop-color="#140a1b"/><stop offset="0.078" stop-color="#170e23"/><stop offset="0.093" stop-color="#19122b"/><stop offset="0.109" stop-color="#1a1733"/><stop offset="0.125" stop-color="#1b1c3a"/><stop offset="0.140" stop-color="#1a2240"/><stop offset="0.156" stop-color="#192845"/><stop offset="0.171" stop-color="#182f49"/><stop offset="0.187" stop-color="#17364c"/><stop offset="0.203" stop-color="#163d4e"/><stop offset="0.218" stop-color="#15444f"/><stop offset="0.234" stop-color="#154b4e"/><stop offset="0.250" stop-color="#15524c"/><stop offset="0.265" stop-color="#17584a"/><stop offset="0.281" stop-color="#195e47"/><stop offset="0.296" stop-color="#1d6443"/><stop offset="0.312" stop-color="#22693f"/><stop offset="0.328" stop-color="#286d3b"/><stop offset="0.343" stop-color="#2f7137"/><stop offset="0.359" stop-color="#387434"/><stop offset="0.375" stop-color="#417731"/><stop offset="0.390" stop-color="#4c792f"/><stop offset="0.406" stop-color="#577a2f"/><stop offset="0.421" stop-color="#637a2f"/><stop offset="0.437" stop-color="#6f7b31"/><stop offset="0.453" stop-color="#7b7a35"/><stop offset="0.468" stop-color="#877a3a"/><stop offset="0.484" stop-color="#937a40"/><stop offset="0.500" stop-color="#9f7948"/><stop offset="0.515" stop-color="#a97951"/><stop offset="0.531" stop-color="#b3795b"/><stop offset="0.546" stop-color="#bc7967"/><stop offset="0.562" stop-color="#c37a73"/><stop offset="0.578" stop-color="#c97b7f"/><stop offset="0.593" stop-color="#ce7d8c"/><stop offset="0.609" stop-color="#d18099"/><stop offset="0.625" stop-color="#d383a6"/><stop offset="0.640" stop-color="#d487b2"/><stop offset="0.656" stop-color="#d48cbe"/><stop offset="0.671" stop-color="#d391c9"/><stop offset="0.687" stop-color="#d297d2"/><stop offset="0.703" stop-color="#cf9ddb"/><stop offset="0.718" stop-color="#cca4e2"/><stop offset="0.734" stop-color="#caabe8"/><stop offset="0.750" stop-color="#c7b2ed"/><stop offset="0.765" stop-color="#c5baf0"/><stop offset="0.781" stop-color="#c3c1f2"/><stop offset="0.796" stop-color="#c2c8f3"/><stop offset="0.812" stop-color="#c1cff3"/><stop offset="0.828" stop-color="#c2d6f3"/><stop offset="0.843" stop-color="#c4dcf2"/><stop offset="0.859" stop-color="#c6e1f1"/><stop offset="0.875" stop-color="#cae7f0"/><stop offset="0.890" stop-color="#cfebef"/><stop offset="0.906" stop-color="#d4efef"/><stop offset="0.921" stop-color="#dbf3ef"/><stop offset="0.937" stop-color="#e2f6f0"/><stop offset="0.953" stop-color="#e9f8f2"/><stop offset="0.968" stop-color="#f0fbf5"/><stop offset="0.984" stop-color="#f8fdfa"/><stop offset="1.000" stop-color="#ffffff"/></linearGradient></defs><rect x="733.104" y="64.800" width="20.790" height="415.800" fill="url(#cbgrad)"/>
   <g id="matplotlib.axis_3"/>
   <g id="matplotlib.axis_4">
    <g id="ytick_5">
     <g id="line2d_9">
      <defs>
       <path id="mdd9ea57d41" d="M 0 0 
L 3.5 0 
" style="stroke: #000000; stroke-width: 0.8"/>
      </defs>
      <g>
       <use href="#mdd9ea57d41" x="753.894" y="480.6" style="stroke: #000000; stroke-width: 0.8"/>
      </g>
     </g>
     <g id="text_12">
      <text style="font-size: 20px; font-family: 'DejaVu Sans', 'Bitstream Vera Sans', 'Computer Modern Sans Serif', 'Lucida Grande', 'Verdana', 'Geneva', 'Lucid', 'Arial', 'Helvetica', 'Avant Garde', sans-serif; text-anchor: start" x="760.894" y="488.198" transform="rotate(-0 760.894 488.198)">0.0</text>
     </g>
    </g>
    <g id="ytick_6">
     <g id="line2d_10">
      <g>
       <use href="#mdd9ea57d41" x="753.894" y="397.44" style="stroke: #000000; stroke-width: 0.8"/>
      </g>
     </g>
     <g id="text_13">
      <text style="font-size: 20px; font-family: 'DejaVu Sans', 'Bitstream Vera Sans', 'Computer Modern Sans Serif', 'Lucida Grande', 'Verdana', 'Geneva', 'Lucid', 'Arial', 'Helvetica', 'Avant Garde', sans-serif; text-anchor: start" x="760.894" y="405.038" transform="rotate(-0 760.894 405.038)">0.2</text>
     </g>
    </g>
    <g id="ytick_7">
     <g id="line2d_11">
      <g>
       <use href="#mdd9ea57d41" x="753.894" y="314.28" style="stroke: #000000; stroke-width: 0.8"/>
      </g>
     </g>
     <g id="text_14">
      <text style="font-size: 20px; font-family: 'DejaVu Sans', 'Bitstream Vera Sans', 'Computer Modern Sans Serif', 'Lucida Grande', 'Verdana', 'Geneva', 'Lucid', 'Arial', 'Helvetica', 'Avant Garde', sans-serif; text-anchor: start" x="760.894" y="321.878" transform="rotate(-0 760.894 321.878)">0.4</text>
     </g>
    </g>
    <g id="ytick_8">
     <g id="line2d_12">
      <g>
       <use href="#mdd9ea57d41" x="753.894" y="231.12" style="stroke: #000000; stroke-width: 0.8"/>
      </g>
     </g>
     <g id="text_15">
      <text style="font-size: 20px; font-family: 'DejaVu Sans', 'Bitstream Vera Sans', 'Computer Modern Sans Serif', 'Lucida Grande', 'Verdana', 'Geneva', 'Lucid', 'Arial', 'Helvetica', 'Avant Garde', sans-serif; text-anchor: start" x="760.894" y="238.718" transform="rotate(-0 760.894 238.718)">0.6</text>
     </g>
    </g>
    <g id="ytick_9">
     <g id="line2d_13">
      <g>
       <use href="#mdd9ea57d41" x="753.894" y="147.96" style="stroke: #000000; stroke-width: 0.8"/>
      </g>
     </g>
     <g id="text_16">
      <text style="font-size: 20px; font-family: 'DejaVu Sans', 'Bitstream Vera Sans', 'Computer Modern Sans Serif', 'Lucida Grande', 'Verdana', 'Geneva', 'Lucid', 'Arial', 'Helvetica', 'Avant Garde', sans-serif; text-anchor: start" x="760.894" y="155.558" transform="rotate(-0 760.894 155.558)">0.8</text>
     </g>
    </g>
    <g id="ytick_10">
     <g id="line2d_14">
      <g>
       <use href="#mdd9ea57d41" x="753.894" y="64.8" style="stroke: #000000; stroke-width: 0.8"/>
      </g>
     </g>
     <g id="text_17">
      <text style="font-size: 20px; font-family: 'DejaVu Sans', 'Bitstream Vera Sans', 'Computer Modern Sans Serif', 'Lucida Grande', 'Verdana', 'Geneva', 'Lucid', 'Arial', 'Helvetica', 'Avant Garde', sans-serif; text-anchor: start" x="760.894" y="72.398" transform="rotate(-0 760.894 72.398)">1.0</text>
     </g>
    </g>
    <g id="text_18">
     
     <g transform="translate(813.402 367.68) rotate(-90)">
      <text xml:space="preserve" style="white-space: pre"><tspan x="0.000 12.695" y="-0.796" style="font-style: oblique; font-size: 20px; font-family: 'DejaVu Sans'">dN</tspan><tspan x="27.656 34.395" y="-0.796" style="font-size: 20px; font-family: 'DejaVu Sans'">/(</tspan><tspan x="42.197 54.893 66.729 79.424" y="-0.796" style="font-style: oblique; font-size: 20px; font-family: 'DejaVu Sans'">dxdp</tspan><tspan x="92.119" y="2.484" style="font-style: oblique; font-size: 14px; font-family: 'DejaVu Sans'">x</tspan><tspan x="100.951" y="-0.796" style="font-size: 20px; font-family: 'DejaVu Sans'">)</tspan><tspan x="108.754 120.795 132.836 144.877 156.918 168.959 181.000" y="-0.796" style="font-size: 20px; font-family: 'DejaVu Sans Mono'"> [A.U.]</tspan></text>
     </g>
    </g>
   </g>
   <g id="LineCollection_1"/>
   <g id="patch_8">
    <path d="M 733.104 480.6 
L 743.499 480.6 
L 753.894 480.6 
L 753.894 64.8 
L 743.499 64.8 
L 733.104 64.8 
L 733.104 480.6 
z
" style="fill: none; stroke: #000000; stroke-width: 0.8; stroke-linejoin: miter; stroke-linecap: square"/>
   </g>
  </g>
  <g id="axes_3">
   <g id="matplotlib.axis_5">
    <g id="ytick_11">
     <g id="line2d_15">
      <defs>
       <path id="m0902ac9b42" d="M 0 0 
L 3.5 0 
" style="stroke: #ff0000; stroke-width: 0.8"/>
      </defs>
      <g>
       <use href="#m0902ac9b42" x="663.12" y="480.6" style="fill: #ff0000; stroke: #ff0000; stroke-width: 0.8"/>
      </g>
     </g>
     <g id="text_19">
      <text style="font-size: 25px; font-family: 'DejaVu Sans', 'Bitstream Vera Sans', 'Computer Modern Sans Serif', 'Lucida Grande', 'Verdana', 'Geneva', 'Lucid', 'Arial', 'Helvetica', 'Avant Garde', sans-serif; text-anchor: start; fill: #ff0000" x="670.12" y="490.098" transform="rotate(-0 670.12 490.098)">0</text>
     </g>
    </g>
    <g id="ytick_12">
     <g id="line2d_16">
      <g>
       <use href="#m0902ac9b42" x="663.12" y="397.44" style="fill: #ff0000; stroke: #ff0000; stroke-width: 0.8"/>
      </g>
     </g>
     <g id="text_20">
      <text style="font-size: 25px; font-family: 'DejaVu Sans', 'Bitstream Vera Sans', 'Computer Modern Sans Serif', 'Lucida Grande', 'Verdana', 'Geneva', 'Lucid', 'Arial', 'Helvetica', 'Avant Garde', sans-serif; text-anchor: start; fill: #ff0000" x="670.12" y="406.938" transform="rotate(-0 670.12 406.938)">1</text>
     </g>
    </g>
    <g id="ytick_13">
     <g id="line2d_17">
      <g>
       <use href="#m0902ac9b42" x="663.12" y="314.28" style="fill: #ff0000; stroke: #ff0000; stroke-width: 0.8"/>
      </g>
     </g>
     <g id="text_21">
      <text style="font-size: 25px; font-family: 'DejaVu Sans', 'Bitstream Vera Sans', 'Computer Modern Sans Serif', 'Lucida Grande', 'Verdana', 'Geneva', 'Lucid', 'Arial', 'Helvetica', 'Avant Garde', sans-serif; text-anchor: start; fill: #ff0000" x="670.12" y="323.778" transform="rotate(-0 670.12 323.778)">2</text>
     </g>
    </g>
    <g id="ytick_14">
     <g id="line2d_18">
      <g>
       <use href="#m0902ac9b42" x="663.12" y="231.12" style="fill: #ff0000; stroke: #ff0000; stroke-width: 0.8"/>
      </g>
     </g>
     <g id="text_22">
      <text style="font-size: 25px; font-family: 'DejaVu Sans', 'Bitstream Vera Sans', 'Computer Modern Sans Serif', 'Lucida Grande', 'Verdana', 'Geneva', 'Lucid', 'Arial', 'Helvetica', 'Avant Garde', sans-serif; text-anchor: start; fill: #ff0000" x="670.12" y="240.618" transform="rotate(-0 670.12 240.618)">3</text>
     </g>
    </g>
    <g id="ytick_15">
     <g id="line2d_19">
      <g>
       <use href="#m0902ac9b42" x="663.12" y="147.96" style="fill: #ff0000; stroke: #ff0000; stroke-width: 0.8"/>
      </g>
     </g>
     <g id="text_23">
      <text style="font-size: 25px; font-family: 'DejaVu Sans', 'Bitstream Vera Sans', 'Computer Modern Sans Serif', 'Lucida Grande', 'Verdana', 'Geneva', 'Lucid', 'Arial', 'Helvetica', 'Avant Garde', sans-serif; text-anchor: start; fill: #ff0000" x="670.12" y="157.458" transform="rotate(-0 670.12 157.458)">4</text>
     </g>
    </g>
    <g id="ytick_16">
     <g id="line2d_20">
      <g>
       <use href="#m0902ac9b42" x="663.12" y="64.8" style="fill: #ff0000; stroke: #ff0000; stroke-width: 0.8"/>
      </g>
     </g>
     <g id="text_24">
      <text style="font-size: 25px; font-family: 'DejaVu Sans', 'Bitstream Vera Sans', 'Computer Modern Sans Serif', 'Lucida Grande', 'Verdana', 'Geneva', 'Lucid', 'Arial', 'Helvetica', 'Avant Garde', sans-serif; text-anchor: start; fill: #ff0000" x="670.12" y="74.298" transform="rotate(-0 670.12 74.298)">5</text>
     </g>
    </g>
    <g id="text_25">
     
     <g style="fill: #ff0000" transform="translate(706.326 431.737) rotate(-90)">
      <text xml:space="preserve" style="white-space: pre"><tspan x="0.000" y="-0.718" style="font-style: oblique; font-size: 20px; font-family: 'DejaVu Sans'; fill: #ff0000">E</tspan><tspan x="12.637" y="2.562" style="font-style: oblique; font-size: 14px; font-family: 'DejaVu Sans'; fill: #ff0000">x</tspan><tspan x="21.469 33.510" y="-0.718" style="font-size: 20px; font-family: 'DejaVu Sans Mono'; fill: #ff0000"> [</tspan><tspan x="45.551" y="-0.718" style="font-style: oblique; font-size: 20px; font-family: 'DejaVu Sans'; fill: #ff0000">m</tspan><tspan x="65.033" y="2.562" style="font-style: oblique; font-size: 14px; font-family: 'DejaVu Sans'; fill: #ff0000">e</tspan><tspan x="74.193 85.189" y="-0.718" style="font-style: oblique; font-size: 20px; font-family: 'DejaVu Sans'; fill: #ff0000">cω</tspan><tspan x="101.938 108.676" y="-0.718" style="font-size: 20px; font-family: 'DejaVu Sans'; fill: #ff0000">/|</tspan><tspan x="115.414" y="-0.718" style="font-style: oblique; font-size: 20px; font-family: 'DejaVu Sans'; fill: #ff0000">e</tspan><tspan x="127.719" y="-0.718" style="font-size: 20px; font-family: 'DejaVu Sans'; fill: #ff0000">|</tspan><tspan x="134.457 146.498 158.539 170.580" y="-0.718" style="font-size: 20px; font-family: 'DejaVu Sans Mono'; fill: #ff0000">] &amp; </tspan><tspan x="182.621" y="-0.718" style="font-style: oblique; font-size: 20px; font-family: 'DejaVu Sans'; fill: #ff0000">n</tspan><tspan x="195.297" y="2.562" style="font-style: oblique; font-size: 14px; font-family: 'DejaVu Sans'; fill: #ff0000">e</tspan><tspan x="204.457" y="-0.718" style="font-size: 20px; font-family: 'DejaVu Sans Mono'; fill: #ff0000">(</tspan><tspan x="216.498" y="-0.718" style="font-style: oblique; font-size: 20px; font-family: 'DejaVu Sans'; fill: #ff0000">Z</tspan><tspan x="230.199" y="2.562" style="font-style: oblique; font-size: 14px; font-family: 'DejaVu Sans'; fill: #ff0000">i</tspan><tspan x="234.636" y="-0.718" style="font-style: oblique; font-size: 20px; font-family: 'DejaVu Sans'; fill: #ff0000">n</tspan><tspan x="247.312" y="2.562" style="font-style: oblique; font-size: 14px; font-family: 'DejaVu Sans'; fill: #ff0000">i</tspan><tspan x="251.748 263.789 275.830" y="-0.718" style="font-size: 20px; font-family: 'DejaVu Sans Mono'; fill: #ff0000">) [</tspan><tspan x="287.871" y="-0.718" style="font-style: oblique; font-size: 20px; font-family: 'DejaVu Sans'; fill: #ff0000">n</tspan><tspan x="300.547" y="2.562" style="font-style: oblique; font-size: 14px; font-family: 'DejaVu Sans'; fill: #ff0000">c</tspan><tspan x="308.791" y="-0.718" style="font-size: 20px; font-family: 'DejaVu Sans Mono'; fill: #ff0000">]</tspan></text>
     </g>
    </g>
   </g>
   <g id="line2d_21">
    <path d="M 164.093 -1 
L 164.25 64.8 
L 164.385 92.25 
L 167.85 106.2 
L 168.525 117 
L 168.975 164.25 
L 171.45 173.25 
L 172.35 225 
L 173.25 270 
L 174.015 288.765 
L 175.14 300.015 
L 176.085 303.75 
L 177.3 297 
L 178.335 291.735 
L 179.1 294.75 
L 180 299.7 
L 182.25 288 
L 184.05 243 
L 185.4 198 
L 186.48 171 
L 187.425 121.5 
L 188.1 96.885 
L 188.775 121.5 
L 189.9 171 
L 191.7 234 
L 193.185 270 
L 194.175 277.425 
L 195.075 247.5 
L 196.74 220.5 
L 198.135 207.9 
L 198.99 202.185 
L 200.25 220.5 
L 201.15 229.5 
L 201.69 245.25 
L 202.185 266.4 
L 202.815 247.5 
L 203.715 216 
L 204.66 200.25 
L 206.1 180 
L 207 176.4 
L 209.25 175.5 
L 210.15 171 
L 211.95 117 
L 213.75 76.5 
L 214.875 64.8 
L 215.55 27 
L 215.683 -1 
M 217.241 -1 
L 217.575 27 
L 218.115 64.8 
L 219.96 72.765 
L 221.4 64.8 
L 222.525 27 
L 222.725 -1 
M 250.066 -1 
L 250.38 64.8 
L 251.055 89.347 
L 251.73 109.996 
L 252.405 126.316 
L 253.08 139.448 
L 253.755 150.330 
L 254.43 159.838 
L 255.105 168.063 
L 255.78 174.888 
L 256.455 180.387 
L 257.13 185.961 
L 257.805 192.813 
L 258.48 200.955 
L 259.155 211.437 
L 259.83 225 
L 260.505 242.132 
L 261.18 253.244 
L 261.855 262.029 
L 262.53 269.522 
L 263.205 277.318 
L 263.88 282.112 
L 264.555 282.309 
L 265.23 282.374 
L 265.905 281.868 
L 266.58 281.253 
L 267.255 282.627 
L 267.93 285.955 
L 268.605 291.794 
L 269.28 300.775 
L 269.955 309.953 
L 270.63 318.757 
L 271.305 327.425 
L 271.98 333.359 
L 272.655 337.458 
L 273.33 340.092 
L 274.005 341.521 
L 274.68 342.221 
L 275.355 341.716 
L 276.03 340.896 
L 276.705 340.076 
L 277.38 340.354 
L 278.055 342.778 
L 278.73 346.890 
L 279.405 354.317 
L 280.08 359.659 
L 280.755 362.916 
L 281.43 364.95 
L 282.105 365.905 
L 282.78 366.544 
L 283.455 367.273 
L 284.13 368.579 
L 284.805 370.135 
L 285.48 371.009 
L 286.155 371.025 
L 286.83 371.025 
L 287.505 370.781 
L 288.18 370.486 
L 288.855 371.514 
L 289.53 373.821 
L 290.205 375.969 
L 290.88 378.215 
L 291.555 380.744 
L 292.23 383.839 
L 292.905 387.776 
L 293.58 390.947 
L 294.255 393.588 
L 294.93 395.074 
L 295.605 395.043 
L 296.28 394.886 
L 296.955 394.483 
L 297.63 394.112 
L 298.305 396.399 
L 298.98 400.549 
L 299.655 405.891 
L 300.33 410.653 
L 301.005 414.381 
L 301.68 417.599 
L 302.355 419.757 
L 303.03 421.027 
L 303.705 421.834 
L 304.38 421.630 
L 305.055 420.194 
L 305.73 418.033 
L 306.405 414.104 
L 307.08 412.812 
L 307.755 412.522 
L 308.43 414.016 
L 309.105 416.530 
L 309.78 419.923 
L 310.455 424.264 
L 311.13 428.212 
L 311.805 432.033 
L 312.48 435.007 
L 313.155 437.010 
L 313.83 439.175 
L 314.505 432.979 
L 315.18 426.741 
L 315.855 424.343 
L 316.53 422.545 
L 317.205 421.209 
L 317.88 420.196 
L 318.555 419.344 
L 319.23 418.604 
L 319.905 418.236 
L 320.58 418.485 
L 321.255 419.256 
L 321.93 420.272 
L 322.605 421.339 
L 323.28 422.826 
L 323.955 424.323 
L 324.63 425.253 
L 325.305 425.873 
L 325.98 426.15 
L 326.655 424.640 
L 327.33 421.813 
L 328.005 419.593 
L 328.68 417.390 
L 329.355 416.180 
L 330.03 416.559 
L 330.705 417.694 
L 331.38 419.062 
L 332.055 421.204 
L 332.73 423.613 
L 333.405 425.122 
L 334.08 425.792 
L 334.755 426.269 
L 335.43 426.6 
L 336.105 426.805 
L 336.78 426.950 
L 337.455 427.148 
L 338.13 427.576 
L 338.805 428.276 
L 339.48 429.054 
L 340.155 429.714 
L 340.83 430.268 
L 341.505 430.821 
L 342.18 431.234 
L 342.855 431.367 
L 343.53 431.230 
L 344.205 430.942 
L 344.88 430.595 
L 345.555 430.272 
L 346.23 429.880 
L 346.905 429.433 
L 347.58 429.035 
L 348.255 428.791 
L 348.93 428.76 
L 349.605 428.76 
L 350.28 428.76 
L 350.955 428.76 
L 351.63 428.76 
L 352.305 428.76 
L 352.98 428.753 
L 353.655 428.681 
L 354.33 428.575 
L 355.005 428.498 
L 355.68 428.524 
L 356.355 428.696 
L 357.03 428.925 
L 357.705 429.191 
L 358.38 429.542 
L 359.055 429.948 
L 359.73 430.382 
L 360.405 430.816 
L 361.08 431.222 
L 361.755 431.587 
L 362.43 431.959 
L 363.105 432.330 
L 363.78 432.687 
L 364.455 433.017 
L 365.13 433.306 
L 365.805 433.540 
L 366.48 433.708 
L 367.155 433.852 
L 367.83 434.025 
L 368.505 434.284 
L 369.18 434.657 
L 369.855 435.117 
L 370.53 435.629 
L 371.205 436.161 
L 371.88 436.685 
L 372.555 437.269 
L 373.23 437.884 
L 373.905 438.458 
L 374.58 438.952 
L 375.255 439.449 
L 375.93 439.924 
L 376.605 440.341 
L 377.28 440.660 
L 377.955 440.845 
L 378.63 440.939 
L 379.305 441.005 
L 379.98 441.087 
L 380.655 441.242 
L 381.33 441.529 
L 382.005 441.916 
L 382.68 442.364 
L 383.355 442.834 
L 384.03 443.287 
L 384.705 443.684 
L 385.38 443.990 
L 386.055 444.226 
L 386.73 444.446 
L 387.405 444.700 
L 388.08 445.054 
L 388.755 445.520 
L 389.43 445.989 
L 390.105 446.348 
L 390.78 446.612 
L 391.455 446.836 
L 392.13 447.035 
L 392.805 447.220 
L 393.48 447.405 
L 394.155 447.602 
L 394.83 447.824 
L 395.505 448.079 
L 396.18 448.360 
L 396.855 448.651 
L 397.53 448.939 
L 398.205 449.209 
L 398.88 449.451 
L 399.555 449.678 
L 400.23 449.896 
L 400.905 450.105 
L 401.58 450.309 
L 402.255 450.509 
L 402.93 450.708 
L 403.605 450.907 
L 404.28 451.093 
L 404.955 451.270 
L 405.63 451.449 
L 406.305 451.641 
L 406.98 451.858 
L 407.655 452.117 
L 408.33 452.424 
L 409.005 452.763 
L 409.68 453.119 
L 410.355 453.476 
L 411.03 453.820 
L 411.705 454.134 
L 412.38 454.399 
L 413.055 454.618 
L 413.73 454.849 
L 414.405 455.154 
L 415.08 455.724 
L 415.755 456.380 
L 416.43 456.739 
L 417.105 456.949 
L 417.78 457.121 
L 418.455 457.261 
L 419.13 457.377 
L 419.805 457.474 
L 420.48 457.56 
L 421.155 457.628 
L 421.83 457.679 
L 422.505 457.723 
L 423.18 457.773 
L 423.855 457.840 
L 424.53 457.951 
L 425.205 458.153 
L 425.88 458.413 
L 426.555 458.689 
L 427.23 458.938 
L 427.905 459.119 
L 428.58 459.250 
L 429.255 459.358 
L 429.93 459.458 
L 430.605 459.564 
L 431.28 459.691 
L 431.955 459.851 
L 432.63 460.045 
L 433.305 460.263 
L 433.98 460.494 
L 434.655 460.728 
L 435.33 460.954 
L 436.005 461.162 
L 436.68 461.341 
L 437.355 461.494 
L 438.03 461.645 
L 438.705 461.821 
L 439.38 462.061 
L 440.055 462.359 
L 440.73 462.666 
L 441.405 462.931 
L 442.08 463.112 
L 442.755 463.244 
L 443.43 463.351 
L 444.105 463.442 
L 444.78 463.526 
L 445.455 463.614 
L 446.13 463.715 
L 446.805 463.839 
L 447.48 463.999 
L 448.155 464.255 
L 448.83 464.560 
L 449.505 464.828 
L 450.18 465.006 
L 450.855 465.155 
L 451.53 465.285 
L 452.205 465.402 
L 452.88 465.512 
L 453.555 465.620 
L 454.23 465.732 
L 454.905 465.849 
L 455.58 465.960 
L 456.255 466.067 
L 456.93 466.177 
L 457.605 466.297 
L 458.28 466.434 
L 458.955 466.618 
L 459.63 466.844 
L 460.305 467.082 
L 460.98 467.298 
L 461.655 467.461 
L 462.33 467.552 
L 463.005 467.611 
L 463.68 467.654 
L 464.355 467.698 
L 465.03 467.755 
L 465.705 467.842 
L 466.38 468.040 
L 467.055 468.331 
L 467.73 468.644 
L 468.405 468.910 
L 469.08 469.065 
L 469.755 469.170 
L 470.43 469.263 
L 471.105 469.346 
L 471.78 469.420 
L 472.455 469.486 
L 473.13 469.547 
L 473.805 469.602 
L 474.48 469.654 
L 475.155 469.705 
L 475.83 469.755 
L 476.505 469.806 
L 477.18 469.859 
L 477.855 469.916 
L 478.53 469.976 
L 479.205 470.036 
L 479.88 470.096 
L 480.555 470.155 
L 481.23 470.210 
L 481.905 470.260 
L 482.58 470.303 
L 483.255 470.339 
L 483.93 470.366 
L 484.605 470.381 
L 485.28 470.382 
L 485.955 470.342 
L 486.63 470.266 
L 487.305 470.172 
L 487.98 470.081 
L 488.655 470.010 
L 489.33 469.980 
L 490.005 469.995 
L 490.68 470.043 
L 491.355 470.119 
L 492.03 470.217 
L 492.705 470.331 
L 493.38 470.456 
L 494.055 470.587 
L 494.73 470.719 
L 495.405 470.845 
L 496.08 470.963 
L 496.755 471.088 
L 497.43 471.221 
L 498.105 471.360 
L 498.78 471.503 
L 499.455 471.646 
L 500.13 471.786 
L 500.805 471.920 
L 501.48 472.046 
L 502.155 472.177 
L 502.83 472.313 
L 503.505 472.450 
L 504.18 472.585 
L 504.855 472.712 
L 505.53 472.829 
L 506.205 472.931 
L 506.88 473.015 
L 507.555 473.075 
L 508.23 473.118 
L 508.905 473.158 
L 509.58 473.196 
L 510.255 473.232 
L 510.93 473.263 
L 511.605 473.291 
L 512.28 473.315 
L 512.955 473.333 
L 513.63 473.346 
L 514.305 473.353 
L 514.98 473.355 
L 515.655 473.355 
L 516.33 473.355 
L 517.005 473.355 
L 517.68 473.355 
L 518.355 473.355 
L 519.03 473.355 
L 519.705 473.355 
L 520.38 473.355 
L 521.055 473.355 
L 521.73 473.355 
L 522.405 473.355 
L 523.08 473.355 
L 523.755 473.360 
L 524.43 473.370 
L 525.105 473.384 
L 525.78 473.403 
L 526.455 473.425 
L 527.13 473.450 
L 527.805 473.478 
L 528.48 473.508 
L 529.155 473.540 
L 529.83 473.573 
L 530.505 473.606 
L 531.18 473.641 
L 531.855 473.684 
L 532.53 473.735 
L 533.205 473.793 
L 533.88 473.857 
L 534.555 473.926 
L 535.23 473.999 
L 535.905 474.076 
L 536.58 474.154 
L 537.255 474.234 
L 537.93 474.314 
L 538.605 474.393 
L 539.28 474.471 
L 539.955 474.557 
L 540.63 474.648 
L 541.305 474.745 
L 541.98 474.845 
L 542.655 474.946 
L 543.33 475.047 
L 544.005 475.145 
L 544.68 475.239 
L 545.355 475.328 
L 546.03 475.409 
L 546.705 475.481 
L 547.38 475.542 
L 548.055 475.596 
L 548.73 475.645 
L 549.405 475.691 
L 550.08 475.733 
L 550.755 475.773 
L 551.43 475.812 
L 552.105 475.851 
L 552.78 475.891 
L 553.455 475.934 
L 554.13 475.980 
L 554.805 476.029 
L 555.48 476.085 
L 556.155 476.151 
L 556.83 476.223 
L 557.505 476.299 
L 558.18 476.375 
L 558.855 476.448 
L 559.53 476.515 
L 560.205 476.572 
L 560.88 476.618 
L 561.555 476.657 
L 562.23 476.693 
L 562.905 476.726 
L 563.58 476.756 
L 564.255 476.786 
L 564.93 476.815 
L 565.605 476.844 
L 566.28 476.874 
L 566.955 476.907 
L 567.63 476.942 
L 568.305 476.978 
L 568.98 477.015 
L 569.655 477.053 
L 570.33 477.092 
L 571.005 477.131 
L 571.68 477.170 
L 572.355 477.209 
L 573.03 477.248 
L 573.705 477.287 
L 574.38 477.325 
L 575.055 477.362 
L 575.73 477.398 
L 576.405 477.433 
L 577.08 477.466 
L 577.755 477.498 
L 578.43 477.528 
L 579.105 477.556 
L 579.78 477.585 
L 580.455 477.613 
L 581.13 477.641 
L 581.805 477.670 
L 582.48 477.698 
L 583.155 477.725 
L 583.83 477.753 
L 584.505 477.780 
L 585.18 477.806 
L 585.855 477.832 
L 586.53 477.857 
L 587.205 477.881 
L 587.88 477.905 
L 588.555 477.928 
L 589.23 477.949 
L 589.905 477.970 
L 590.58 477.989 
L 591.255 478.007 
L 591.93 478.024 
L 592.605 478.039 
L 593.28 478.053 
L 593.955 478.065 
L 594.63 478.076 
L 595.305 478.085 
L 595.98 478.093 
L 596.655 478.100 
L 597.33 478.107 
L 598.005 478.113 
L 598.68 478.118 
L 599.355 478.123 
L 600.03 478.127 
L 600.705 478.131 
L 601.38 478.135 
L 602.055 478.139 
L 602.73 478.143 
L 603.405 478.147 
L 604.08 478.151 
L 604.755 478.155 
L 605.43 478.159 
L 606.105 478.163 
L 606.78 478.168 
L 607.455 478.174 
L 608.13 478.180 
L 608.805 478.186 
L 609.48 478.194 
L 610.155 478.202 
L 610.83 478.211 
L 611.505 478.221 
L 612.18 478.238 
L 612.855 478.259 
L 613.53 478.286 
L 614.205 478.317 
L 614.88 478.352 
L 615.555 478.390 
L 616.23 478.432 
L 616.905 478.476 
L 617.58 478.523 
L 618.255 478.571 
L 618.93 478.620 
L 619.605 478.671 
L 620.28 478.721 
L 620.955 478.772 
L 621.63 478.822 
L 622.305 478.871 
L 622.98 478.919 
L 623.655 478.964 
L 624.33 479.008 
L 625.005 479.048 
L 625.68 479.086 
L 626.355 479.119 
L 627.03 479.149 
L 627.705 479.175 
L 628.38 479.199 
L 629.055 479.223 
L 629.73 479.246 
L 630.405 479.268 
L 631.08 479.290 
L 631.755 479.311 
L 632.43 479.332 
L 633.105 479.352 
L 633.78 479.371 
L 634.455 479.390 
L 635.13 479.408 
L 635.805 479.426 
L 636.48 479.444 
L 637.155 479.461 
L 637.83 479.478 
L 638.505 479.494 
L 639.18 479.511 
L 639.855 479.527 
L 640.53 479.542 
L 641.205 479.558 
L 641.88 479.573 
L 642.555 479.588 
L 643.23 479.603 
L 643.905 479.618 
L 644.58 479.633 
L 645.255 479.648 
L 645.93 479.663 
L 646.605 479.677 
L 647.28 479.691 
L 647.955 479.706 
L 648.63 479.720 
L 649.305 479.733 
L 649.98 479.747 
L 650.655 479.761 
L 651.33 479.774 
L 652.005 479.787 
L 652.68 479.800 
L 653.355 479.813 
L 654.03 479.825 
L 654.705 479.837 
L 655.38 479.849 
L 656.055 479.861 
L 656.73 479.873 
L 657.405 479.884 
L 658.08 479.895 
L 658.755 479.906 
L 659.43 479.917 
L 660.105 479.927 
L 660.78 479.937 
L 661.455 479.947 
L 662.13 479.956 
L 662.805 479.965 
L 663.12 479.97 
" clip-path="url(#p8d87a5adac)" style="fill: none; stroke: #00ff00; stroke-width: 3; stroke-linecap: square"/>
   </g>
   <g id="line2d_22">
    <path d="M 150.12 148.95 
L 150.885 126 
L 151.56 64.8 
L 151.828 -1 
M 157.726 -1 
L 157.95 64.8 
L 158.985 252 
L 159.615 295.2 
L 160.605 252 
L 162 64.8 
L 162.223 -1 
M 165.826 -1 
L 166.05 64.8 
L 166.5 171 
L 169.335 255.6 
L 169.74 257.535 
L 170.1 171 
L 170.37 64.8 
L 170.571 -1 
M 173.835 -1 
L 173.97 64.8 
L 175.05 171 
L 175.5 211.5 
L 177.075 273.33 
L 178.56 211.5 
L 178.875 171 
L 179.55 64.8 
L 179.773 -1 
M 183.285 -1 
L 183.42 64.8 
L 184.05 171 
L 184.68 225 
L 185.535 270 
L 185.85 307.215 
L 187.515 270 
L 189 171 
L 190.26 111.15 
L 191.25 171 
L 191.385 279 
L 193.14 328.5 
L 193.68 360 
L 195.3 375.615 
L 196.515 360 
L 196.875 328.5 
L 197.235 315 
L 198 288 
L 200.385 264.6 
L 201.825 315 
L 202.14 328.5 
L 202.5 360 
L 203.85 402.12 
L 204.48 402.57 
L 204.93 360 
L 205.515 328.5 
L 206.1 279 
L 207.72 218.475 
L 209.385 279 
L 210.555 315 
L 210.78 328.5 
L 211.5 360 
L 212.04 380.25 
L 212.355 387.585 
L 213.21 380.25 
L 213.93 360 
L 214.515 328.5 
L 215.55 279 
L 217.395 250.425 
L 218.25 279 
L 219.465 315 
L 220.387 360 
L 221.4 391.5 
L 221.715 400.32 
L 222.525 387 
L 223.695 360 
L 224.235 327.15 
L 225.585 332.1 
L 226.125 311.625 
L 226.8 311.175 
L 227.925 333 
L 228.937 360 
L 230.085 405 
L 230.31 420.975 
L 231.21 421.425 
L 231.705 405 
L 232.38 360 
L 233.1 333 
L 234.9 311.76 
L 236.07 337.5 
L 236.655 360 
L 238.545 405 
L 239.265 437.625 
L 240.165 405 
L 241.92 360 
L 242.775 337.185 
L 243.675 360 
L 244.575 400.5 
L 245.115 423 
L 245.43 430.2 
L 246.6 432 
L 247.14 445.815 
L 248.31 425.25 
L 249.03 400.5 
L 250.2 387 
L 252.45 378.9 
L 254.07 401.4 
L 254.745 427.5 
L 255.825 449.865 
L 257.4 448.2 
L 258.975 446.49 
L 259.29 427.5 
L 261.135 385.11 
L 262.575 427.5 
L 263.025 442.35 
L 264.15 443.7 
L 265.365 464.265 
L 266.85 452.385 
L 268.2 464.04 
L 269.865 436.635 
L 272.025 448.2 
L 272.835 466.2 
L 274.05 468 
L 275.175 471.69 
L 276.3 468 
L 277.74 447.435 
L 278.775 461.115 
L 280.485 451.26 
L 281.52 453.6 
L 282.6 459.9 
L 282.96 467.415 
L 285.075 466.74 
L 285.975 450 
L 287.37 446.535 
L 288.72 453.42 
L 290.295 456.57 
L 291.375 464.85 
L 291.87 475.47 
L 292.725 478.35 
L 293.76 473.4 
L 294.525 454.5 
L 295.245 448.2 
L 296.91 433.845 
L 298.17 457.65 
L 299.745 449.685 
L 300.825 476.1 
L 302.895 476.1 
L 304.785 452.835 
L 305.82 460.8 
L 306.765 460.215 
L 308.16 475.47 
L 308.7 478.35 
L 310.77 478.35 
L 312.345 466.02 
L 313.92 463.95 
L 315.495 410.715 
L 317.07 433.35 
L 318.645 475.47 
L 319.68 478.35 
L 321.795 477.45 
L 324.225 424.35 
L 325.485 449.1 
L 327.06 475.47 
L 328.095 478.35 
L 329.67 477.45 
L 330.705 455.4 
L 332.28 450.27 
L 333.855 445.995 
L 334.935 472.32 
L 336.51 478.08 
L 337.5 477 
L 338.58 475.335 
L 340.695 475.335 
L 341.415 476.55 
L 342.495 466.965 
L 344.34 472.32 
L 345.6 473.4 
L 346.5 478.62 
L 348.75 480.6 
L 350.64 479.7 
L 352.215 478.26 
L 353.79 480.6 
L 358.335 480.6 
L 359.19 472.5 
L 360 469.71 
L 360.81 472.5 
L 361.53 480.6 
L 363.6 480.6 
L 365.13 478.26 
L 366.75 480.6 
L 371.925 480.6 
L 373.86 477.315 
L 375.975 480.6 
L 387 480.6 
L 388.8 478.575 
L 390.15 479.7 
L 393.03 477.135 
L 394.875 478.8 
L 396.72 477.765 
L 399.15 478.8 
L 400.95 480.6 
L 401.85 480.6 
L 403.695 478.26 
L 405.225 479.7 
L 407.07 478.8 
L 409.185 478.8 
L 410.715 472.455 
L 412.02 480.6 
L 423 480.6 
L 425.655 478.26 
L 427.5 480.6 
L 433.8 480.15 
L 436.905 476.415 
L 439.065 478.8 
L 441.315 475.785 
L 443.34 480.6 
L 445.5 480.6 
L 447.39 477.315 
L 449.415 480.6 
L 451.53 479.7 
L 452.7 479.25 
L 455.31 477.63 
L 457.02 478.575 
L 458.235 480.6 
L 469.8 480.6 
L 470.7 480.15 
L 473.76 477.27 
L 476.1 480.6 
L 481.05 480.6 
L 483.345 477.36 
L 485.55 480.15 
L 486.45 480.6 
L 496.35 480.6 
L 498.015 479.835 
L 499.5 480.6 
L 503.1 480.6 
L 504.225 477.9 
L 505.26 477.63 
L 506.7 477.9 
L 508.275 479.25 
L 509.58 478.71 
L 510.975 479.25 
L 513 477.405 
L 514.8 480.6 
L 516.375 480.6 
L 518.355 477.27 
L 520.2 479.925 
L 520.92 479.7 
L 522.225 480.375 
L 523.62 479.7 
L 525.15 480.6 
L 528.3 480.6 
L 530.505 477.36 
L 532.575 480.6 
L 533.7 480.6 
L 535.185 479.79 
L 536.85 479.925 
L 538.2 480.6 
L 542.25 480.6 
L 545.445 476.82 
L 547.65 480.15 
L 549.765 479.925 
L 551.25 480.6 
L 560.7 480.6 
L 562.14 479.925 
L 563.85 480.375 
L 565.47 479.79 
L 566.775 480.15 
L 568.17 479.7 
L 570.06 479.565 
L 571.5 480.6 
L 580.5 480.6 
L 582.165 479.565 
L 583.875 480.6 
L 598.05 480.6 
L 599.715 479.565 
L 601.425 480.15 
L 603.18 479.7 
L 604.8 480.6 
L 606.15 480.6 
L 608.04 479.835 
L 609.75 480.6 
L 619.2 480.6 
L 620.55 479.925 
L 622.35 479.565 
L 624.15 480.6 
L 636.75 480.6 
L 638.1 480.15 
L 639.675 479.25 
L 641.655 476.82 
L 643.5 479.25 
L 644.4 480.6 
L 648.9 480.6 
L 650.655 479.835 
L 652.5 480.6 
L 663.12 480.6 
" clip-path="url(#p8d87a5adac)" style="fill: none; stroke: #0000ff; stroke-width: 3; stroke-linecap: square"/>
   </g>
   <g id="line2d_23">
    <path d="M 148.388 -1 
L 148.5 64.8 
L 148.95 112.5 
L 149.67 153 
L 151.02 171 
L 152.1 198 
L 153 209.7 
L 154.35 187.2 
L 155.475 211.5 
L 156.915 226.935 
L 158.175 202.5 
L 159.48 182.025 
L 160.425 198 
L 161.1 206.1 
L 162.9 207 
L 164.7 217.8 
L 166.32 243 
L 167.625 261 
L 168.75 279 
L 169.65 297 
L 170.1 299.7 
L 171.45 300.15 
L 172.215 306 
L 172.485 326.25 
L 173.25 332.1 
L 174.735 327.6 
L 175.14 345.015 
L 176.265 354.6 
L 178.515 345.015 
L 180 322.515 
L 181.485 300.015 
L 183.015 270 
L 183.6 225 
L 184.05 192.735 
L 184.725 202.5 
L 185.4 212.4 
L 186.75 210.6 
L 188.1 209.7 
L 188.775 220.5 
L 189 234 
L 190.35 279 
L 190.89 292.5 
L 192.015 295.2 
L 193.635 282.15 
L 194.265 307.35 
L 195.615 326.61 
L 197.235 300.015 
L 198 279 
L 199.035 252 
L 199.8 238.95 
L 200.79 234.36 
L 201.78 238.95 
L 202.5 252 
L 204.3 276.525 
L 205.65 261 
L 207 245.7 
L 209.25 228.6 
L 210.375 230.4 
L 211.5 234 
L 212.985 218.7 
L 214.515 231.93 
L 216.585 231.03 
L 218.25 218.97 
L 220.05 230.4 
L 221.4 232.2 
L 223.2 244.215 
L 223.785 264.015 
L 225.135 288 
L 227.25 315 
L 228.6 334.215 
L 229.275 306 
L 229.5 279 
L 230.175 234 
L 230.85 196.875 
L 231.525 234 
L 233.1 279 
L 234 315 
L 234.45 342 
L 234.9 346.5 
L 236.7 338.85 
L 238.05 349.2 
L 239.4 360 
L 240.3 362.7 
L 241.2 378 
L 242.1 380.7 
L 244.53 383.76 
L 246.15 381.15 
L 248.175 380.925 
L 248.94 377.1 
L 249.21 360 
L 249.48 333 
L 249.93 300.735 
L 250.987 382.5 
L 251.235 427.5 
L 252.45 480.6 
L 276.75 480.6 
L 278.55 480.15 
L 280.35 479.79 
L 281.7 480.15 
L 282.825 479.61 
L 284.4 480.15 
L 288 480.42 
L 297 480.6 
L 314.55 480.6 
L 316.8 480.06 
L 319.05 480.6 
L 663.12 480.6 
" clip-path="url(#p8d87a5adac)" style="fill: none; stroke: #ff0000; stroke-width: 3; stroke-linecap: square"/>
   </g>
   <g id="patch_9">
    <path d="M 138.24 480.6 
L 138.24 64.8 
" style="fill: none; stroke: #000000; stroke-width: 0.8; stroke-linejoin: miter; stroke-linecap: square"/>
   </g>
   <g id="patch_10">
    <path d="M 663.12 480.6 
L 663.12 64.8 
" style="fill: none; stroke: #000000; stroke-width: 0.8; stroke-linejoin: miter; stroke-linecap: square"/>
   </g>
   <g id="patch_11">
    <path d="M 138.24 480.6 
L 663.12 480.6 
" style="fill: none; stroke: #000000; stroke-width: 0.8; stroke-linejoin: miter; stroke-linecap: square"/>
   </g>
   <g id="patch_12">
    <path d="M 138.24 64.8 
L 663.12 64.8 
" style="fill: none; stroke: #000000; stroke-width: 0.8; stroke-linejoin: miter; stroke-linecap: square"/>
   </g>
   <g id="legend_1">
    <g id="patch_13">
     <path d="M 350.78 169.988 
L 450.58 169.988 
Q 454.58 169.988 454.58 165.988 
L 454.58 78.8 
Q 454.58 74.8 450.58 74.8 
L 350.78 74.8 
Q 346.78 74.8 346.78 78.8 
L 346.78 165.988 
Q 346.78 169.988 350.78 169.988 
z
" style="fill: #ffffff; opacity: 0.8; stroke: #cccccc; stroke-linejoin: miter"/>
    </g>
    <g id="line2d_24">
     <path d="M 354.98 91.196 
L 374.98 91.196 
L 394.98 91.196 
" style="fill: none; stroke: #00ff00; stroke-width: 3; stroke-linecap: square"/>
    </g>
    <g id="text_26">
     
     <g transform="translate(410.98 98.196)">
      <text xml:space="preserve" style="white-space: pre"><tspan x="0.000" y="-0.421" style="font-style: oblique; font-size: 20px; font-family: 'DejaVu Sans'">E</tspan><tspan x="12.637" y="2.859" style="font-style: oblique; font-size: 14px; font-family: 'DejaVu Sans'">x</tspan></text>
     </g>
    </g>
    <g id="line2d_25">
     <path d="M 354.98 120.913 
L 374.98 120.913 
L 394.98 120.913 
" style="fill: none; stroke: #0000ff; stroke-width: 3; stroke-linecap: square"/>
    </g>
    <g id="text_27">
     
     <g transform="translate(410.98 127.913)">
      <text xml:space="preserve" style="white-space: pre"><tspan x="0.000" y="-0.796" style="font-style: oblique; font-size: 20px; font-family: 'DejaVu Sans'">n</tspan><tspan x="12.676" y="2.484" style="font-style: oblique; font-size: 14px; font-family: 'DejaVu Sans'">e</tspan></text>
     </g>
    </g>
    <g id="line2d_26">
     <path d="M 354.98 150.629 
L 374.98 150.629 
L 394.98 150.629 
" style="fill: none; stroke: #ff0000; stroke-width: 3; stroke-linecap: square"/>
    </g>
    <g id="text_28">
     
     <g transform="translate(410.98 157.629)">
      <text xml:space="preserve" style="white-space: pre"><tspan x="0.000" y="-0.421" style="font-style: oblique; font-size: 20px; font-family: 'DejaVu Sans'">Z</tspan><tspan x="13.701" y="2.859" style="font-style: oblique; font-size: 14px; font-family: 'DejaVu Sans'">i</tspan><tspan x="18.138" y="-0.421" style="font-style: oblique; font-size: 20px; font-family: 'DejaVu Sans'">n</tspan><tspan x="30.813" y="2.859" style="font-style: oblique; font-size: 14px; font-family: 'DejaVu Sans'">i</tspan></text>
     </g>
    </g>
   </g>
  </g>
 </g>
 <defs>
  <clipPath id="p8d87a5adac">
   <rect x="138.24" y="64.8" width="524.88" height="415.8"/>
  </clipPath>
 </defs>
</svg>

</body></html>
